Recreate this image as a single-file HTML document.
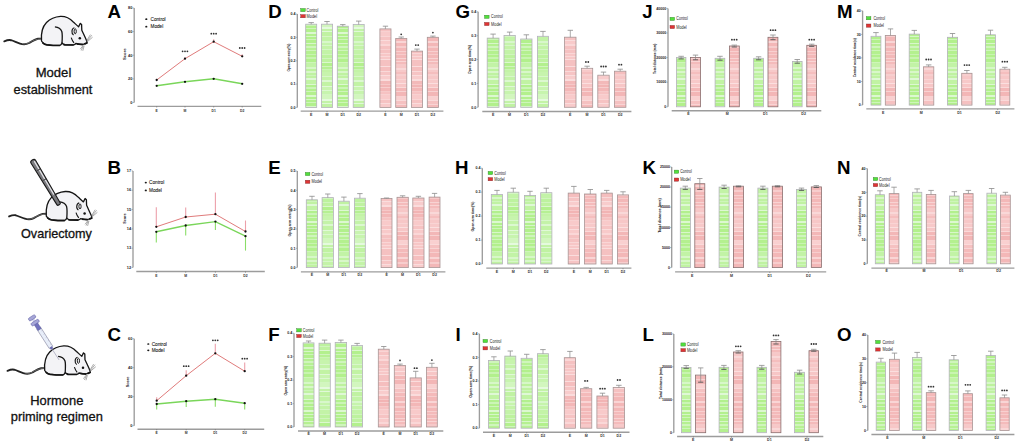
<!DOCTYPE html>
<html><head><meta charset="utf-8"><style>
html,body{margin:0;padding:0;background:#fff;width:1020px;height:446px;overflow:hidden}
svg{display:block}
text{font-family:"Liberation Sans",sans-serif}
</style></head><body>
<svg width="1020" height="446" viewBox="0 0 1020 446">
<defs><pattern id="pg1" patternUnits="userSpaceOnUse" width="20" height="63"><rect y="0" width="20" height="1" fill="#c2f3a6"/><rect y="1" width="20" height="1" fill="#c2f3a6"/><rect y="2" width="20" height="1" fill="#c2f3a6"/><rect y="3" width="20" height="1" fill="#c2f3a6"/><rect y="4" width="20" height="1" fill="#d7f7c8"/><rect y="5" width="20" height="1" fill="#d7f7c8"/><rect y="6" width="20" height="1" fill="#bdf29d"/><rect y="7" width="20" height="1" fill="#bdf29d"/><rect y="8" width="20" height="1" fill="#d8f7c9"/><rect y="9" width="20" height="1" fill="#d8f7c9"/><rect y="10" width="20" height="1" fill="#bff2a1"/><rect y="11" width="20" height="1" fill="#bff2a1"/><rect y="12" width="20" height="1" fill="#cef5ba"/><rect y="13" width="20" height="1" fill="#c0f2a2"/><rect y="14" width="20" height="1" fill="#c0f2a2"/><rect y="15" width="20" height="1" fill="#dff8d6"/><rect y="16" width="20" height="1" fill="#dff8d6"/><rect y="17" width="20" height="1" fill="#c1f3a3"/><rect y="18" width="20" height="1" fill="#c1f3a3"/><rect y="19" width="20" height="1" fill="#c1f3a3"/><rect y="20" width="20" height="1" fill="#c1f3a3"/><rect y="21" width="20" height="1" fill="#ddf8d2"/><rect y="22" width="20" height="1" fill="#b2f08d"/><rect y="23" width="20" height="1" fill="#b2f08d"/><rect y="24" width="20" height="1" fill="#cbf5b6"/><rect y="25" width="20" height="1" fill="#cbf5b6"/><rect y="26" width="20" height="1" fill="#b2f08c"/><rect y="27" width="20" height="1" fill="#b2f08c"/><rect y="28" width="20" height="1" fill="#cff5bc"/><rect y="29" width="20" height="1" fill="#b3f08d"/><rect y="30" width="20" height="1" fill="#b3f08d"/><rect y="31" width="20" height="1" fill="#b3f08d"/><rect y="32" width="20" height="1" fill="#dcf8d0"/><rect y="33" width="20" height="1" fill="#dcf8d0"/><rect y="34" width="20" height="1" fill="#b3f08e"/><rect y="35" width="20" height="1" fill="#b3f08e"/><rect y="36" width="20" height="1" fill="#d6f7c7"/><rect y="37" width="20" height="1" fill="#b2f08c"/><rect y="38" width="20" height="1" fill="#b2f08c"/><rect y="39" width="20" height="1" fill="#cdf5b9"/><rect y="40" width="20" height="1" fill="#b2f08c"/><rect y="41" width="20" height="1" fill="#b2f08c"/><rect y="42" width="20" height="1" fill="#b2f08c"/><rect y="43" width="20" height="1" fill="#d8f7ca"/><rect y="44" width="20" height="1" fill="#b5f091"/><rect y="45" width="20" height="1" fill="#b5f091"/><rect y="46" width="20" height="1" fill="#cff5bc"/><rect y="47" width="20" height="1" fill="#cff5bc"/><rect y="48" width="20" height="1" fill="#b7f194"/><rect y="49" width="20" height="1" fill="#b7f194"/><rect y="50" width="20" height="1" fill="#cef5bb"/><rect y="51" width="20" height="1" fill="#b4f08f"/><rect y="52" width="20" height="1" fill="#b4f08f"/><rect y="53" width="20" height="1" fill="#b4f08f"/><rect y="54" width="20" height="1" fill="#c8f4b0"/><rect y="55" width="20" height="1" fill="#b2f08c"/><rect y="56" width="20" height="1" fill="#b2f08c"/><rect y="57" width="20" height="1" fill="#c8f4b0"/><rect y="58" width="20" height="1" fill="#c8f4b0"/><rect y="59" width="20" height="1" fill="#b2f08c"/><rect y="60" width="20" height="1" fill="#b2f08c"/><rect y="61" width="20" height="1" fill="#b2f08c"/><rect y="62" width="20" height="1" fill="#cef5b9"/></pattern><pattern id="pg2" patternUnits="userSpaceOnUse" width="20" height="72"><rect y="0" width="20" height="1" fill="#c7f4ad"/><rect y="1" width="20" height="1" fill="#c7f4ad"/><rect y="2" width="20" height="1" fill="#c7f4ad"/><rect y="3" width="20" height="1" fill="#c7f4ad"/><rect y="4" width="20" height="1" fill="#d8f7ca"/><rect y="5" width="20" height="1" fill="#c4f3a8"/><rect y="6" width="20" height="1" fill="#c4f3a8"/><rect y="7" width="20" height="1" fill="#c4f3a8"/><rect y="8" width="20" height="1" fill="#dcf8d0"/><rect y="9" width="20" height="1" fill="#dcf8d0"/><rect y="10" width="20" height="1" fill="#c2f3a4"/><rect y="11" width="20" height="1" fill="#c2f3a4"/><rect y="12" width="20" height="1" fill="#c2f3a4"/><rect y="13" width="20" height="1" fill="#c2f3a4"/><rect y="14" width="20" height="1" fill="#e0f9d7"/><rect y="15" width="20" height="1" fill="#c9f4b0"/><rect y="16" width="20" height="1" fill="#c9f4b0"/><rect y="17" width="20" height="1" fill="#c9f4b0"/><rect y="18" width="20" height="1" fill="#dcf8d0"/><rect y="19" width="20" height="1" fill="#c7f4ae"/><rect y="20" width="20" height="1" fill="#c7f4ae"/><rect y="21" width="20" height="1" fill="#c7f4ae"/><rect y="22" width="20" height="1" fill="#d2f6c1"/><rect y="23" width="20" height="1" fill="#d2f6be"/><rect y="24" width="20" height="1" fill="#d2f6be"/><rect y="25" width="20" height="1" fill="#d2f6be"/><rect y="26" width="20" height="1" fill="#d2f6be"/><rect y="27" width="20" height="1" fill="#e5fade"/><rect y="28" width="20" height="1" fill="#e5fade"/><rect y="29" width="20" height="1" fill="#c3f3a7"/><rect y="30" width="20" height="1" fill="#c3f3a7"/><rect y="31" width="20" height="1" fill="#e0f9d8"/><rect y="32" width="20" height="1" fill="#c0f2a2"/><rect y="33" width="20" height="1" fill="#c0f2a2"/><rect y="34" width="20" height="1" fill="#c0f2a2"/><rect y="35" width="20" height="1" fill="#c0f2a2"/><rect y="36" width="20" height="1" fill="#d5f6c4"/><rect y="37" width="20" height="1" fill="#c2f3a6"/><rect y="38" width="20" height="1" fill="#c2f3a6"/><rect y="39" width="20" height="1" fill="#c2f3a6"/><rect y="40" width="20" height="1" fill="#c2f3a6"/><rect y="41" width="20" height="1" fill="#d8f7cb"/><rect y="42" width="20" height="1" fill="#d8f7cb"/><rect y="43" width="20" height="1" fill="#c6f4ac"/><rect y="44" width="20" height="1" fill="#c6f4ac"/><rect y="45" width="20" height="1" fill="#d7f7c9"/><rect y="46" width="20" height="1" fill="#c4f3a8"/><rect y="47" width="20" height="1" fill="#c4f3a8"/><rect y="48" width="20" height="1" fill="#c4f3a8"/><rect y="49" width="20" height="1" fill="#d4f6c4"/><rect y="50" width="20" height="1" fill="#c3f3a7"/><rect y="51" width="20" height="1" fill="#c3f3a7"/><rect y="52" width="20" height="1" fill="#c3f3a7"/><rect y="53" width="20" height="1" fill="#c3f3a7"/><rect y="54" width="20" height="1" fill="#d0f5bd"/><rect y="55" width="20" height="1" fill="#bdf29e"/><rect y="56" width="20" height="1" fill="#bdf29e"/><rect y="57" width="20" height="1" fill="#bdf29e"/><rect y="58" width="20" height="1" fill="#d0f5bd"/><rect y="59" width="20" height="1" fill="#bff2a0"/><rect y="60" width="20" height="1" fill="#bff2a0"/><rect y="61" width="20" height="1" fill="#bff2a0"/><rect y="62" width="20" height="1" fill="#dbf8ce"/><rect y="63" width="20" height="1" fill="#b3f08d"/><rect y="64" width="20" height="1" fill="#b3f08d"/><rect y="65" width="20" height="1" fill="#b3f08d"/><rect y="66" width="20" height="1" fill="#d0f5bd"/><rect y="67" width="20" height="1" fill="#b6f093"/><rect y="68" width="20" height="1" fill="#b6f093"/><rect y="69" width="20" height="1" fill="#cbf4b5"/><rect y="70" width="20" height="1" fill="#c3f3a6"/><rect y="71" width="20" height="1" fill="#c3f3a6"/></pattern><pattern id="pr1" patternUnits="userSpaceOnUse" width="20" height="63"><rect y="0" width="20" height="1" fill="#f5c1c1"/><rect y="1" width="20" height="1" fill="#f5c1c1"/><rect y="2" width="20" height="1" fill="#f5c1c1"/><rect y="3" width="20" height="1" fill="#fadddd"/><rect y="4" width="20" height="1" fill="#f5bebe"/><rect y="5" width="20" height="1" fill="#f5bebe"/><rect y="6" width="20" height="1" fill="#f5bebe"/><rect y="7" width="20" height="1" fill="#f5bebe"/><rect y="8" width="20" height="1" fill="#f9d9d9"/><rect y="9" width="20" height="1" fill="#f6c4c4"/><rect y="10" width="20" height="1" fill="#f6c4c4"/><rect y="11" width="20" height="1" fill="#f6c4c4"/><rect y="12" width="20" height="1" fill="#fadddd"/><rect y="13" width="20" height="1" fill="#f8cccc"/><rect y="14" width="20" height="1" fill="#f8cccc"/><rect y="15" width="20" height="1" fill="#f8cccc"/><rect y="16" width="20" height="1" fill="#fadcdc"/><rect y="17" width="20" height="1" fill="#fadcdc"/><rect y="18" width="20" height="1" fill="#f3b9b9"/><rect y="19" width="20" height="1" fill="#f3b9b9"/><rect y="20" width="20" height="1" fill="#f3b9b9"/><rect y="21" width="20" height="1" fill="#f6c8c8"/><rect y="22" width="20" height="1" fill="#f2b4b4"/><rect y="23" width="20" height="1" fill="#f2b4b4"/><rect y="24" width="20" height="1" fill="#f7cdcd"/><rect y="25" width="20" height="1" fill="#f3b7b7"/><rect y="26" width="20" height="1" fill="#f3b7b7"/><rect y="27" width="20" height="1" fill="#f3b7b7"/><rect y="28" width="20" height="1" fill="#f6caca"/><rect y="29" width="20" height="1" fill="#f6c2c2"/><rect y="30" width="20" height="1" fill="#f6c2c2"/><rect y="31" width="20" height="1" fill="#f8d1d1"/><rect y="32" width="20" height="1" fill="#f8caca"/><rect y="33" width="20" height="1" fill="#f8caca"/><rect y="34" width="20" height="1" fill="#f8caca"/><rect y="35" width="20" height="1" fill="#f8caca"/><rect y="36" width="20" height="1" fill="#f9d5d5"/><rect y="37" width="20" height="1" fill="#f6c3c3"/><rect y="38" width="20" height="1" fill="#f6c3c3"/><rect y="39" width="20" height="1" fill="#f6c3c3"/><rect y="40" width="20" height="1" fill="#fadcdc"/><rect y="41" width="20" height="1" fill="#f8caca"/><rect y="42" width="20" height="1" fill="#f8caca"/><rect y="43" width="20" height="1" fill="#f8caca"/><rect y="44" width="20" height="1" fill="#fad7d7"/><rect y="45" width="20" height="1" fill="#fad7d7"/><rect y="46" width="20" height="1" fill="#f5c1c1"/><rect y="47" width="20" height="1" fill="#f5c1c1"/><rect y="48" width="20" height="1" fill="#f5c1c1"/><rect y="49" width="20" height="1" fill="#f7cfcf"/><rect y="50" width="20" height="1" fill="#f5c1c1"/><rect y="51" width="20" height="1" fill="#f5c1c1"/><rect y="52" width="20" height="1" fill="#f5c1c1"/><rect y="53" width="20" height="1" fill="#f9d6d6"/><rect y="54" width="20" height="1" fill="#f7c6c6"/><rect y="55" width="20" height="1" fill="#f7c6c6"/><rect y="56" width="20" height="1" fill="#fad8d8"/><rect y="57" width="20" height="1" fill="#f7c7c7"/><rect y="58" width="20" height="1" fill="#f7c7c7"/><rect y="59" width="20" height="1" fill="#fadddd"/><rect y="60" width="20" height="1" fill="#f5c1c1"/><rect y="61" width="20" height="1" fill="#f5c1c1"/><rect y="62" width="20" height="1" fill="#f5c1c1"/></pattern><pattern id="pr2" patternUnits="userSpaceOnUse" width="20" height="72"><rect y="0" width="20" height="1" fill="#f5bebe"/><rect y="1" width="20" height="1" fill="#f5bebe"/><rect y="2" width="20" height="1" fill="#f7cece"/><rect y="3" width="20" height="1" fill="#f7cece"/><rect y="4" width="20" height="1" fill="#f7c7c7"/><rect y="5" width="20" height="1" fill="#f7c7c7"/><rect y="6" width="20" height="1" fill="#f7c7c7"/><rect y="7" width="20" height="1" fill="#f9d4d4"/><rect y="8" width="20" height="1" fill="#f7c9c9"/><rect y="9" width="20" height="1" fill="#f7c9c9"/><rect y="10" width="20" height="1" fill="#f7c9c9"/><rect y="11" width="20" height="1" fill="#fbdfdf"/><rect y="12" width="20" height="1" fill="#f7c6c6"/><rect y="13" width="20" height="1" fill="#f7c6c6"/><rect y="14" width="20" height="1" fill="#f7c6c6"/><rect y="15" width="20" height="1" fill="#fad9d9"/><rect y="16" width="20" height="1" fill="#f3b7b7"/><rect y="17" width="20" height="1" fill="#f3b7b7"/><rect y="18" width="20" height="1" fill="#f3b7b7"/><rect y="19" width="20" height="1" fill="#f8d2d2"/><rect y="20" width="20" height="1" fill="#f3b6b6"/><rect y="21" width="20" height="1" fill="#f3b6b6"/><rect y="22" width="20" height="1" fill="#f3b6b6"/><rect y="23" width="20" height="1" fill="#f3b6b6"/><rect y="24" width="20" height="1" fill="#f8d2d2"/><rect y="25" width="20" height="1" fill="#f9d0d0"/><rect y="26" width="20" height="1" fill="#f9d0d0"/><rect y="27" width="20" height="1" fill="#f9d0d0"/><rect y="28" width="20" height="1" fill="#fadada"/><rect y="29" width="20" height="1" fill="#f5c1c1"/><rect y="30" width="20" height="1" fill="#f5c1c1"/><rect y="31" width="20" height="1" fill="#f5c1c1"/><rect y="32" width="20" height="1" fill="#f8d4d4"/><rect y="33" width="20" height="1" fill="#f4baba"/><rect y="34" width="20" height="1" fill="#f4baba"/><rect y="35" width="20" height="1" fill="#f4baba"/><rect y="36" width="20" height="1" fill="#f7cece"/><rect y="37" width="20" height="1" fill="#f3b7b7"/><rect y="38" width="20" height="1" fill="#f3b7b7"/><rect y="39" width="20" height="1" fill="#f3b7b7"/><rect y="40" width="20" height="1" fill="#f3b7b7"/><rect y="41" width="20" height="1" fill="#f9d5d5"/><rect y="42" width="20" height="1" fill="#f9d5d5"/><rect y="43" width="20" height="1" fill="#f3b7b7"/><rect y="44" width="20" height="1" fill="#f3b7b7"/><rect y="45" width="20" height="1" fill="#f3b7b7"/><rect y="46" width="20" height="1" fill="#f7cdcd"/><rect y="47" width="20" height="1" fill="#f7cdcd"/><rect y="48" width="20" height="1" fill="#f3b7b7"/><rect y="49" width="20" height="1" fill="#f3b7b7"/><rect y="50" width="20" height="1" fill="#f3b7b7"/><rect y="51" width="20" height="1" fill="#f8d0d0"/><rect y="52" width="20" height="1" fill="#f4baba"/><rect y="53" width="20" height="1" fill="#f4baba"/><rect y="54" width="20" height="1" fill="#f7cbcb"/><rect y="55" width="20" height="1" fill="#f3b8b8"/><rect y="56" width="20" height="1" fill="#f3b8b8"/><rect y="57" width="20" height="1" fill="#f3b8b8"/><rect y="58" width="20" height="1" fill="#f8d3d3"/><rect y="59" width="20" height="1" fill="#f4bbbb"/><rect y="60" width="20" height="1" fill="#f4bbbb"/><rect y="61" width="20" height="1" fill="#f9d5d5"/><rect y="62" width="20" height="1" fill="#f4bbbb"/><rect y="63" width="20" height="1" fill="#f4bbbb"/><rect y="64" width="20" height="1" fill="#f6c9c9"/><rect y="65" width="20" height="1" fill="#f6c9c9"/><rect y="66" width="20" height="1" fill="#f7c7c7"/><rect y="67" width="20" height="1" fill="#f7c7c7"/><rect y="68" width="20" height="1" fill="#f9d8d8"/><rect y="69" width="20" height="1" fill="#f9d8d8"/><rect y="70" width="20" height="1" fill="#f7c9c9"/><rect y="71" width="20" height="1" fill="#f7c9c9"/></pattern></defs>
<rect width="1020" height="446" fill="#fff"/>
<text x="268.2" y="18.2" font-size="18.7" font-weight="bold" fill="#000">D</text>
<line x1="297.3" y1="14.1" x2="297.3" y2="107.4" stroke="#9c9c9c" stroke-width="1.35"/>
<line x1="295.8" y1="107.4" x2="297.3" y2="107.4" stroke="#8a8a8a" stroke-width="0.6"/>
<text x="295.5" y="108.6" font-size="3.6" text-anchor="end" font-weight="bold" fill="#222" >0.0</text>
<line x1="295.8" y1="84.1" x2="297.3" y2="84.1" stroke="#8a8a8a" stroke-width="0.6"/>
<text x="295.5" y="85.3" font-size="3.6" text-anchor="end" font-weight="bold" fill="#222" >0.1</text>
<line x1="295.8" y1="60.8" x2="297.3" y2="60.8" stroke="#8a8a8a" stroke-width="0.6"/>
<text x="295.5" y="62" font-size="3.6" text-anchor="end" font-weight="bold" fill="#222" >0.2</text>
<line x1="295.8" y1="37.4" x2="297.3" y2="37.4" stroke="#8a8a8a" stroke-width="0.6"/>
<text x="295.5" y="38.6" font-size="3.6" text-anchor="end" font-weight="bold" fill="#222" >0.3</text>
<line x1="295.8" y1="14.1" x2="297.3" y2="14.1" stroke="#8a8a8a" stroke-width="0.6"/>
<text x="295.5" y="15.3" font-size="3.6" text-anchor="end" font-weight="bold" fill="#222" >0.4</text>
<rect x="305.7" y="24.2" width="11" height="83.2" fill="url(#pg1)" stroke="#b4b2bc" stroke-width="0.8"/>
<line x1="311.2" y1="22.6" x2="311.2" y2="24.2" stroke="#8a8a8a" stroke-width="0.7"/>
<line x1="308.5" y1="22.6" x2="313.9" y2="22.6" stroke="#8a8a8a" stroke-width="0.8"/>
<rect x="321.4" y="24.2" width="11.2" height="83.2" fill="url(#pg2)" stroke="#b4b2bc" stroke-width="0.8"/>
<line x1="327" y1="21.5" x2="327" y2="24.2" stroke="#8a8a8a" stroke-width="0.7"/>
<line x1="324.3" y1="21.5" x2="329.7" y2="21.5" stroke="#8a8a8a" stroke-width="0.8"/>
<rect x="337.3" y="26.2" width="11" height="81.2" fill="url(#pg1)" stroke="#b4b2bc" stroke-width="0.8"/>
<line x1="342.8" y1="24.6" x2="342.8" y2="26.2" stroke="#8a8a8a" stroke-width="0.7"/>
<line x1="340.1" y1="24.6" x2="345.5" y2="24.6" stroke="#8a8a8a" stroke-width="0.8"/>
<rect x="353.2" y="24.5" width="11" height="82.9" fill="url(#pg2)" stroke="#b4b2bc" stroke-width="0.8"/>
<line x1="358.7" y1="21.1" x2="358.7" y2="24.5" stroke="#8a8a8a" stroke-width="0.7"/>
<line x1="356" y1="21.1" x2="361.4" y2="21.1" stroke="#8a8a8a" stroke-width="0.8"/>
<rect x="379.9" y="28.9" width="11.1" height="78.5" fill="url(#pr1)" stroke="#a89494" stroke-width="0.8"/>
<line x1="385.4" y1="26.2" x2="385.4" y2="28.9" stroke="#8a8a8a" stroke-width="0.7"/>
<line x1="382.8" y1="26.2" x2="388.1" y2="26.2" stroke="#8a8a8a" stroke-width="0.8"/>
<rect x="395.7" y="38.4" width="11.1" height="69" fill="url(#pr2)" stroke="#a89494" stroke-width="0.8"/>
<line x1="401.2" y1="37" x2="401.2" y2="38.4" stroke="#8a8a8a" stroke-width="0.7"/>
<line x1="398.6" y1="37" x2="403.9" y2="37" stroke="#8a8a8a" stroke-width="0.8"/>
<circle cx="401.2" cy="34.3" r="0.9" fill="#333"/>
<rect x="411.4" y="51.1" width="11.2" height="56.3" fill="url(#pr1)" stroke="#a89494" stroke-width="0.8"/>
<line x1="417" y1="49.1" x2="417" y2="51.1" stroke="#8a8a8a" stroke-width="0.7"/>
<line x1="414.3" y1="49.1" x2="419.7" y2="49.1" stroke="#8a8a8a" stroke-width="0.8"/>
<circle cx="415.8" cy="45.1" r="0.9" fill="#333"/>
<circle cx="418.2" cy="45.1" r="0.9" fill="#333"/>
<rect x="427.3" y="37.3" width="11.2" height="70.1" fill="url(#pr2)" stroke="#a89494" stroke-width="0.8"/>
<line x1="432.9" y1="36.1" x2="432.9" y2="37.3" stroke="#8a8a8a" stroke-width="0.7"/>
<line x1="430.2" y1="36.1" x2="435.6" y2="36.1" stroke="#8a8a8a" stroke-width="0.8"/>
<circle cx="432.9" cy="32.6" r="0.9" fill="#333"/>
<line x1="300.7" y1="111.1" x2="443.4" y2="111.1" stroke="#9c9c9c" stroke-width="1.35"/>
<line x1="311.2" y1="111.1" x2="311.2" y2="112.3" stroke="#666" stroke-width="0.6"/>
<text x="311.2" y="115.7" font-size="3.6" text-anchor="middle" font-weight="bold" fill="#333" >E</text>
<line x1="327" y1="111.1" x2="327" y2="112.3" stroke="#666" stroke-width="0.6"/>
<text x="327" y="115.7" font-size="3.6" text-anchor="middle" font-weight="bold" fill="#333" >M</text>
<line x1="342.8" y1="111.1" x2="342.8" y2="112.3" stroke="#666" stroke-width="0.6"/>
<text x="342.8" y="115.7" font-size="3.6" text-anchor="middle" font-weight="bold" fill="#333" >D1</text>
<line x1="358.7" y1="111.1" x2="358.7" y2="112.3" stroke="#666" stroke-width="0.6"/>
<text x="358.7" y="115.7" font-size="3.6" text-anchor="middle" font-weight="bold" fill="#333" >D2</text>
<line x1="385.4" y1="111.1" x2="385.4" y2="112.3" stroke="#666" stroke-width="0.6"/>
<text x="385.4" y="115.7" font-size="3.6" text-anchor="middle" font-weight="bold" fill="#333" >E</text>
<line x1="401.2" y1="111.1" x2="401.2" y2="112.3" stroke="#666" stroke-width="0.6"/>
<text x="401.2" y="115.7" font-size="3.6" text-anchor="middle" font-weight="bold" fill="#333" >M</text>
<line x1="417" y1="111.1" x2="417" y2="112.3" stroke="#666" stroke-width="0.6"/>
<text x="417" y="115.7" font-size="3.6" text-anchor="middle" font-weight="bold" fill="#333" >D1</text>
<line x1="432.9" y1="111.1" x2="432.9" y2="112.3" stroke="#666" stroke-width="0.6"/>
<text x="432.9" y="115.7" font-size="3.6" text-anchor="middle" font-weight="bold" fill="#333" >D2</text>
<rect x="300.7" y="8.5" width="4.6" height="3.2" fill="#52e03c" stroke="#3a7a30" stroke-width="0.4"/>
<rect x="300.7" y="14.6" width="4.6" height="3.2" fill="#e03434" stroke="#7a3030" stroke-width="0.4"/>
<text x="306.6" y="11.6" font-size="4.5" text-anchor="start" font-weight="normal" fill="#222" textLength="11.6" lengthAdjust="spacingAndGlyphs">Control</text>
<text x="306.6" y="17.7" font-size="4.5" text-anchor="start" font-weight="normal" fill="#222" textLength="10.4" lengthAdjust="spacingAndGlyphs">Model</text>
<text transform="translate(290.2,57.6) rotate(-90)" font-size="3.4" text-anchor="middle" fill="#222" font-weight="bold" textLength="28" lengthAdjust="spacingAndGlyphs">Open arm entry(%)</text>
<text x="455.6" y="18.2" font-size="18.7" font-weight="bold" fill="#000">G</text>
<line x1="478.1" y1="11.8" x2="478.1" y2="107.3" stroke="#9c9c9c" stroke-width="1.35"/>
<line x1="476.6" y1="107.3" x2="478.1" y2="107.3" stroke="#8a8a8a" stroke-width="0.6"/>
<text x="476.3" y="108.5" font-size="3.6" text-anchor="end" font-weight="bold" fill="#222" >0.0</text>
<line x1="476.6" y1="83.4" x2="478.1" y2="83.4" stroke="#8a8a8a" stroke-width="0.6"/>
<text x="476.3" y="84.6" font-size="3.6" text-anchor="end" font-weight="bold" fill="#222" >0.1</text>
<line x1="476.6" y1="59.5" x2="478.1" y2="59.5" stroke="#8a8a8a" stroke-width="0.6"/>
<text x="476.3" y="60.8" font-size="3.6" text-anchor="end" font-weight="bold" fill="#222" >0.2</text>
<line x1="476.6" y1="35.7" x2="478.1" y2="35.7" stroke="#8a8a8a" stroke-width="0.6"/>
<text x="476.3" y="36.9" font-size="3.6" text-anchor="end" font-weight="bold" fill="#222" >0.3</text>
<line x1="476.6" y1="11.8" x2="478.1" y2="11.8" stroke="#8a8a8a" stroke-width="0.6"/>
<text x="476.3" y="13" font-size="3.6" text-anchor="end" font-weight="bold" fill="#222" >0.4</text>
<rect x="487.2" y="38.1" width="11.8" height="69.2" fill="url(#pg1)" stroke="#b4b2bc" stroke-width="0.8"/>
<line x1="493.1" y1="34.1" x2="493.1" y2="38.1" stroke="#8a8a8a" stroke-width="0.7"/>
<line x1="490.4" y1="34.1" x2="495.8" y2="34.1" stroke="#8a8a8a" stroke-width="0.8"/>
<rect x="504" y="35.4" width="11.3" height="71.9" fill="url(#pg2)" stroke="#b4b2bc" stroke-width="0.8"/>
<line x1="509.6" y1="32.1" x2="509.6" y2="35.4" stroke="#8a8a8a" stroke-width="0.7"/>
<line x1="506.9" y1="32.1" x2="512.4" y2="32.1" stroke="#8a8a8a" stroke-width="0.8"/>
<rect x="520.7" y="39" width="11.3" height="68.3" fill="url(#pg1)" stroke="#b4b2bc" stroke-width="0.8"/>
<line x1="526.4" y1="34.8" x2="526.4" y2="39" stroke="#8a8a8a" stroke-width="0.7"/>
<line x1="523.6" y1="34.8" x2="529.1" y2="34.8" stroke="#8a8a8a" stroke-width="0.8"/>
<rect x="537.4" y="36.3" width="11.1" height="71" fill="url(#pg2)" stroke="#b4b2bc" stroke-width="0.8"/>
<line x1="543" y1="31.4" x2="543" y2="36.3" stroke="#8a8a8a" stroke-width="0.7"/>
<line x1="540.2" y1="31.4" x2="545.7" y2="31.4" stroke="#8a8a8a" stroke-width="0.8"/>
<rect x="564.6" y="37.2" width="11.4" height="70.1" fill="url(#pr1)" stroke="#a89494" stroke-width="0.8"/>
<line x1="570.3" y1="30.3" x2="570.3" y2="37.2" stroke="#8a8a8a" stroke-width="0.7"/>
<line x1="567.6" y1="30.3" x2="573" y2="30.3" stroke="#8a8a8a" stroke-width="0.8"/>
<rect x="581.5" y="68.3" width="11.2" height="39" fill="url(#pr2)" stroke="#a89494" stroke-width="0.8"/>
<line x1="587.1" y1="66.2" x2="587.1" y2="68.3" stroke="#8a8a8a" stroke-width="0.7"/>
<line x1="584.4" y1="66.2" x2="589.8" y2="66.2" stroke="#8a8a8a" stroke-width="0.8"/>
<circle cx="585.9" cy="62" r="0.9" fill="#333"/>
<circle cx="588.3" cy="62" r="0.9" fill="#333"/>
<rect x="597.8" y="75.2" width="11.4" height="32.1" fill="url(#pr1)" stroke="#a89494" stroke-width="0.8"/>
<line x1="603.5" y1="72.1" x2="603.5" y2="75.2" stroke="#8a8a8a" stroke-width="0.7"/>
<line x1="600.8" y1="72.1" x2="606.2" y2="72.1" stroke="#8a8a8a" stroke-width="0.8"/>
<circle cx="601.1" cy="66.5" r="0.9" fill="#333"/>
<circle cx="603.5" cy="66.5" r="0.9" fill="#333"/>
<circle cx="605.9" cy="66.5" r="0.9" fill="#333"/>
<rect x="614.5" y="71.2" width="11.4" height="36.1" fill="url(#pr2)" stroke="#a89494" stroke-width="0.8"/>
<line x1="620.2" y1="69.2" x2="620.2" y2="71.2" stroke="#8a8a8a" stroke-width="0.7"/>
<line x1="617.5" y1="69.2" x2="622.9" y2="69.2" stroke="#8a8a8a" stroke-width="0.8"/>
<circle cx="619" cy="64.7" r="0.9" fill="#333"/>
<circle cx="621.4" cy="64.7" r="0.9" fill="#333"/>
<line x1="482.3" y1="111.5" x2="631.4" y2="111.5" stroke="#9c9c9c" stroke-width="1.35"/>
<line x1="493.1" y1="111.5" x2="493.1" y2="112.7" stroke="#666" stroke-width="0.6"/>
<text x="493.1" y="116.3" font-size="3.6" text-anchor="middle" font-weight="bold" fill="#333" >E</text>
<line x1="509.6" y1="111.5" x2="509.6" y2="112.7" stroke="#666" stroke-width="0.6"/>
<text x="509.6" y="116.3" font-size="3.6" text-anchor="middle" font-weight="bold" fill="#333" >M</text>
<line x1="526.4" y1="111.5" x2="526.4" y2="112.7" stroke="#666" stroke-width="0.6"/>
<text x="526.4" y="116.3" font-size="3.6" text-anchor="middle" font-weight="bold" fill="#333" >D1</text>
<line x1="543" y1="111.5" x2="543" y2="112.7" stroke="#666" stroke-width="0.6"/>
<text x="543" y="116.3" font-size="3.6" text-anchor="middle" font-weight="bold" fill="#333" >D2</text>
<line x1="570.3" y1="111.5" x2="570.3" y2="112.7" stroke="#666" stroke-width="0.6"/>
<text x="570.3" y="116.3" font-size="3.6" text-anchor="middle" font-weight="bold" fill="#333" >E</text>
<line x1="587.1" y1="111.5" x2="587.1" y2="112.7" stroke="#666" stroke-width="0.6"/>
<text x="587.1" y="116.3" font-size="3.6" text-anchor="middle" font-weight="bold" fill="#333" >M</text>
<line x1="603.5" y1="111.5" x2="603.5" y2="112.7" stroke="#666" stroke-width="0.6"/>
<text x="603.5" y="116.3" font-size="3.6" text-anchor="middle" font-weight="bold" fill="#333" >D1</text>
<line x1="620.2" y1="111.5" x2="620.2" y2="112.7" stroke="#666" stroke-width="0.6"/>
<text x="620.2" y="116.3" font-size="3.6" text-anchor="middle" font-weight="bold" fill="#333" >D2</text>
<rect x="484.5" y="15.2" width="4.6" height="3.2" fill="#52e03c" stroke="#3a7a30" stroke-width="0.4"/>
<rect x="484.5" y="22.4" width="4.6" height="3.2" fill="#e03434" stroke="#7a3030" stroke-width="0.4"/>
<text x="491.1" y="18.3" font-size="4.5" text-anchor="start" font-weight="normal" fill="#222" textLength="11.6" lengthAdjust="spacingAndGlyphs">Control</text>
<text x="491.1" y="25.5" font-size="4.5" text-anchor="start" font-weight="normal" fill="#222" textLength="10.4" lengthAdjust="spacingAndGlyphs">Model</text>
<text transform="translate(470.6,59.4) rotate(-90)" font-size="3.4" text-anchor="middle" fill="#222" font-weight="bold" textLength="29" lengthAdjust="spacingAndGlyphs">Open arm time(%)</text>
<text x="642.2" y="18.2" font-size="18.7" font-weight="bold" fill="#000">J</text>
<line x1="668" y1="8.4" x2="668" y2="106.8" stroke="#9c9c9c" stroke-width="1.35"/>
<line x1="666.5" y1="106.8" x2="668" y2="106.8" stroke="#8a8a8a" stroke-width="0.6"/>
<text x="666.2" y="108" font-size="3.6" text-anchor="end" font-weight="bold" fill="#222" >0</text>
<line x1="666.5" y1="82.2" x2="668" y2="82.2" stroke="#8a8a8a" stroke-width="0.6"/>
<text x="666.2" y="83.4" font-size="3.6" text-anchor="end" font-weight="bold" fill="#222" >10000</text>
<line x1="666.5" y1="57.6" x2="668" y2="57.6" stroke="#8a8a8a" stroke-width="0.6"/>
<text x="666.2" y="58.8" font-size="3.6" text-anchor="end" font-weight="bold" fill="#222" >20000</text>
<line x1="666.5" y1="33" x2="668" y2="33" stroke="#8a8a8a" stroke-width="0.6"/>
<text x="666.2" y="34.2" font-size="3.6" text-anchor="end" font-weight="bold" fill="#222" >30000</text>
<line x1="666.5" y1="8.4" x2="668" y2="8.4" stroke="#8a8a8a" stroke-width="0.6"/>
<text x="666.2" y="9.6" font-size="3.6" text-anchor="end" font-weight="bold" fill="#222" >40000</text>
<rect x="676.4" y="57.4" width="9.5" height="49.4" fill="url(#pg1)" stroke="#b4b2bc" stroke-width="0.8"/>
<line x1="681.1" y1="56.3" x2="681.1" y2="58.9" stroke="#8a8a8a" stroke-width="0.7"/>
<line x1="678.4" y1="56.3" x2="683.9" y2="56.3" stroke="#8a8a8a" stroke-width="0.8"/>
<line x1="678.5" y1="58.9" x2="683.8" y2="58.9" stroke="#555" stroke-width="0.9"/>
<rect x="690.5" y="57.4" width="10.1" height="49.4" fill="url(#pr2)" stroke="#8a6e6e" stroke-width="0.8"/>
<line x1="695.5" y1="55.1" x2="695.5" y2="59.8" stroke="#8a8a8a" stroke-width="0.7"/>
<line x1="692.8" y1="55.1" x2="698.2" y2="55.1" stroke="#8a8a8a" stroke-width="0.8"/>
<line x1="692.9" y1="59.8" x2="698.1" y2="59.8" stroke="#555" stroke-width="0.9"/>
<rect x="715.1" y="58.3" width="9.7" height="48.5" fill="url(#pg1)" stroke="#b4b2bc" stroke-width="0.8"/>
<line x1="720" y1="56.3" x2="720" y2="60.2" stroke="#8a8a8a" stroke-width="0.7"/>
<line x1="717.2" y1="56.3" x2="722.7" y2="56.3" stroke="#8a8a8a" stroke-width="0.8"/>
<line x1="717.4" y1="60.2" x2="722.6" y2="60.2" stroke="#555" stroke-width="0.9"/>
<rect x="729.4" y="46" width="9.9" height="60.8" fill="url(#pr2)" stroke="#8a6e6e" stroke-width="0.8"/>
<line x1="734.3" y1="45.1" x2="734.3" y2="47" stroke="#8a8a8a" stroke-width="0.7"/>
<line x1="731.6" y1="45.1" x2="737" y2="45.1" stroke="#8a8a8a" stroke-width="0.8"/>
<line x1="731.7" y1="47" x2="736.9" y2="47" stroke="#555" stroke-width="0.9"/>
<circle cx="731.9" cy="39.7" r="0.9" fill="#333"/>
<circle cx="734.3" cy="39.7" r="0.9" fill="#333"/>
<circle cx="736.7" cy="39.7" r="0.9" fill="#333"/>
<rect x="753.7" y="58.3" width="9.8" height="48.5" fill="url(#pg1)" stroke="#b4b2bc" stroke-width="0.8"/>
<line x1="758.6" y1="56.8" x2="758.6" y2="59.8" stroke="#8a8a8a" stroke-width="0.7"/>
<line x1="755.9" y1="56.8" x2="761.3" y2="56.8" stroke="#8a8a8a" stroke-width="0.8"/>
<line x1="756" y1="59.8" x2="761.2" y2="59.8" stroke="#555" stroke-width="0.9"/>
<rect x="768" y="37.3" width="9.9" height="69.5" fill="url(#pr2)" stroke="#8a6e6e" stroke-width="0.8"/>
<line x1="773" y1="35" x2="773" y2="39.7" stroke="#8a8a8a" stroke-width="0.7"/>
<line x1="770.2" y1="35" x2="775.7" y2="35" stroke="#8a8a8a" stroke-width="0.8"/>
<line x1="770.4" y1="39.7" x2="775.6" y2="39.7" stroke="#555" stroke-width="0.9"/>
<circle cx="770.6" cy="30.2" r="0.9" fill="#333"/>
<circle cx="773" cy="30.2" r="0.9" fill="#333"/>
<circle cx="775.4" cy="30.2" r="0.9" fill="#333"/>
<rect x="792.4" y="61.4" width="9.7" height="45.4" fill="url(#pg1)" stroke="#b4b2bc" stroke-width="0.8"/>
<line x1="797.2" y1="59.5" x2="797.2" y2="63.2" stroke="#8a8a8a" stroke-width="0.7"/>
<line x1="794.5" y1="59.5" x2="800" y2="59.5" stroke="#8a8a8a" stroke-width="0.8"/>
<line x1="794.6" y1="63.2" x2="799.9" y2="63.2" stroke="#555" stroke-width="0.9"/>
<rect x="806.8" y="45.3" width="9.8" height="61.5" fill="url(#pr2)" stroke="#8a6e6e" stroke-width="0.8"/>
<line x1="811.7" y1="44.2" x2="811.7" y2="46.4" stroke="#8a8a8a" stroke-width="0.7"/>
<line x1="809" y1="44.2" x2="814.4" y2="44.2" stroke="#8a8a8a" stroke-width="0.8"/>
<line x1="809.1" y1="46.4" x2="814.3" y2="46.4" stroke="#555" stroke-width="0.9"/>
<circle cx="809.3" cy="39.7" r="0.9" fill="#333"/>
<circle cx="811.7" cy="39.7" r="0.9" fill="#333"/>
<circle cx="814.1" cy="39.7" r="0.9" fill="#333"/>
<line x1="671.7" y1="110.7" x2="821.3" y2="110.7" stroke="#9c9c9c" stroke-width="1.35"/>
<line x1="688.5" y1="110.7" x2="688.5" y2="111.9" stroke="#666" stroke-width="0.6"/>
<text x="688.5" y="115.1" font-size="3.6" text-anchor="middle" font-weight="bold" fill="#333" >E</text>
<line x1="727.2" y1="110.7" x2="727.2" y2="111.9" stroke="#666" stroke-width="0.6"/>
<text x="727.2" y="115.1" font-size="3.6" text-anchor="middle" font-weight="bold" fill="#333" >M</text>
<line x1="765.4" y1="110.7" x2="765.4" y2="111.9" stroke="#666" stroke-width="0.6"/>
<text x="765.4" y="115.1" font-size="3.6" text-anchor="middle" font-weight="bold" fill="#333" >D1</text>
<line x1="803.6" y1="110.7" x2="803.6" y2="111.9" stroke="#666" stroke-width="0.6"/>
<text x="803.6" y="115.1" font-size="3.6" text-anchor="middle" font-weight="bold" fill="#333" >D2</text>
<rect x="670" y="17.3" width="4.6" height="3.2" fill="#52e03c" stroke="#3a7a30" stroke-width="0.4"/>
<rect x="670" y="25.4" width="4.6" height="3.2" fill="#e03434" stroke="#7a3030" stroke-width="0.4"/>
<text x="676.3" y="20.4" font-size="4.5" text-anchor="start" font-weight="normal" fill="#222" textLength="11.6" lengthAdjust="spacingAndGlyphs">Control</text>
<text x="676.3" y="28.5" font-size="4.5" text-anchor="start" font-weight="normal" fill="#222" textLength="10.4" lengthAdjust="spacingAndGlyphs">Model</text>
<text transform="translate(656.3,58.8) rotate(-90)" font-size="3.4" text-anchor="middle" fill="#222" font-weight="bold" textLength="30.3" lengthAdjust="spacingAndGlyphs">Total distance (mm)</text>
<text x="837.1" y="18.2" font-size="18.7" font-weight="bold" fill="#000">M</text>
<line x1="862.6" y1="10.8" x2="862.6" y2="105.1" stroke="#9c9c9c" stroke-width="1.35"/>
<line x1="861.1" y1="105.1" x2="862.6" y2="105.1" stroke="#8a8a8a" stroke-width="0.6"/>
<text x="860.8" y="106.3" font-size="3.6" text-anchor="end" font-weight="bold" fill="#222" >0</text>
<line x1="861.1" y1="81.5" x2="862.6" y2="81.5" stroke="#8a8a8a" stroke-width="0.6"/>
<text x="860.8" y="82.7" font-size="3.6" text-anchor="end" font-weight="bold" fill="#222" >10</text>
<line x1="861.1" y1="57.9" x2="862.6" y2="57.9" stroke="#8a8a8a" stroke-width="0.6"/>
<text x="860.8" y="59.1" font-size="3.6" text-anchor="end" font-weight="bold" fill="#222" >20</text>
<line x1="861.1" y1="34.4" x2="862.6" y2="34.4" stroke="#8a8a8a" stroke-width="0.6"/>
<text x="860.8" y="35.6" font-size="3.6" text-anchor="end" font-weight="bold" fill="#222" >30</text>
<line x1="861.1" y1="10.8" x2="862.6" y2="10.8" stroke="#8a8a8a" stroke-width="0.6"/>
<text x="860.8" y="12" font-size="3.6" text-anchor="end" font-weight="bold" fill="#222" >40</text>
<rect x="871" y="36.3" width="9.9" height="68.8" fill="url(#pg1)" stroke="#b4b2bc" stroke-width="0.8"/>
<line x1="876" y1="32.6" x2="876" y2="36.3" stroke="#8a8a8a" stroke-width="0.7"/>
<line x1="873.2" y1="32.6" x2="878.7" y2="32.6" stroke="#8a8a8a" stroke-width="0.8"/>
<rect x="885.3" y="35.4" width="10.3" height="69.7" fill="url(#pr2)" stroke="#a89494" stroke-width="0.8"/>
<line x1="890.5" y1="28.9" x2="890.5" y2="35.4" stroke="#8a8a8a" stroke-width="0.7"/>
<line x1="887.8" y1="28.9" x2="893.2" y2="28.9" stroke="#8a8a8a" stroke-width="0.8"/>
<rect x="909.2" y="34.1" width="10.2" height="71" fill="url(#pg1)" stroke="#b4b2bc" stroke-width="0.8"/>
<line x1="914.3" y1="30.4" x2="914.3" y2="34.1" stroke="#8a8a8a" stroke-width="0.7"/>
<line x1="911.6" y1="30.4" x2="917" y2="30.4" stroke="#8a8a8a" stroke-width="0.8"/>
<rect x="923.5" y="66.8" width="10.3" height="38.3" fill="url(#pr2)" stroke="#a89494" stroke-width="0.8"/>
<line x1="928.6" y1="64.9" x2="928.6" y2="66.8" stroke="#8a8a8a" stroke-width="0.7"/>
<line x1="925.9" y1="64.9" x2="931.4" y2="64.9" stroke="#8a8a8a" stroke-width="0.8"/>
<circle cx="926.2" cy="59.5" r="0.9" fill="#333"/>
<circle cx="928.6" cy="59.5" r="0.9" fill="#333"/>
<circle cx="931" cy="59.5" r="0.9" fill="#333"/>
<rect x="947.4" y="37.3" width="10.2" height="67.8" fill="url(#pg1)" stroke="#b4b2bc" stroke-width="0.8"/>
<line x1="952.5" y1="33.5" x2="952.5" y2="37.3" stroke="#8a8a8a" stroke-width="0.7"/>
<line x1="949.8" y1="33.5" x2="955.2" y2="33.5" stroke="#8a8a8a" stroke-width="0.8"/>
<rect x="961.7" y="73.3" width="10.3" height="31.8" fill="url(#pr2)" stroke="#a89494" stroke-width="0.8"/>
<line x1="966.9" y1="70.5" x2="966.9" y2="73.3" stroke="#8a8a8a" stroke-width="0.7"/>
<line x1="964.1" y1="70.5" x2="969.6" y2="70.5" stroke="#8a8a8a" stroke-width="0.8"/>
<circle cx="964.5" cy="65.1" r="0.9" fill="#333"/>
<circle cx="966.9" cy="65.1" r="0.9" fill="#333"/>
<circle cx="969.2" cy="65.1" r="0.9" fill="#333"/>
<rect x="985.6" y="34.8" width="9.8" height="70.3" fill="url(#pg1)" stroke="#b4b2bc" stroke-width="0.8"/>
<line x1="990.5" y1="30.2" x2="990.5" y2="34.8" stroke="#8a8a8a" stroke-width="0.7"/>
<line x1="987.8" y1="30.2" x2="993.2" y2="30.2" stroke="#8a8a8a" stroke-width="0.8"/>
<rect x="999.9" y="69.2" width="9.9" height="35.9" fill="url(#pr2)" stroke="#a89494" stroke-width="0.8"/>
<line x1="1004.8" y1="67.3" x2="1004.8" y2="69.2" stroke="#8a8a8a" stroke-width="0.7"/>
<line x1="1002.1" y1="67.3" x2="1007.5" y2="67.3" stroke="#8a8a8a" stroke-width="0.8"/>
<circle cx="1002.4" cy="61.7" r="0.9" fill="#333"/>
<circle cx="1004.8" cy="61.7" r="0.9" fill="#333"/>
<circle cx="1007.2" cy="61.7" r="0.9" fill="#333"/>
<line x1="866.3" y1="108.9" x2="1014.4" y2="108.9" stroke="#9c9c9c" stroke-width="1.35"/>
<line x1="883.1" y1="108.9" x2="883.1" y2="110.1" stroke="#666" stroke-width="0.6"/>
<text x="883.1" y="114.2" font-size="3.6" text-anchor="middle" font-weight="bold" fill="#333" >E</text>
<line x1="921.3" y1="108.9" x2="921.3" y2="110.1" stroke="#666" stroke-width="0.6"/>
<text x="921.3" y="114.2" font-size="3.6" text-anchor="middle" font-weight="bold" fill="#333" >M</text>
<line x1="959.5" y1="108.9" x2="959.5" y2="110.1" stroke="#666" stroke-width="0.6"/>
<text x="959.5" y="114.2" font-size="3.6" text-anchor="middle" font-weight="bold" fill="#333" >D1</text>
<line x1="997.7" y1="108.9" x2="997.7" y2="110.1" stroke="#666" stroke-width="0.6"/>
<text x="997.7" y="114.2" font-size="3.6" text-anchor="middle" font-weight="bold" fill="#333" >D2</text>
<rect x="866.3" y="16.6" width="4.6" height="3.2" fill="#52e03c" stroke="#3a7a30" stroke-width="0.4"/>
<rect x="866.3" y="24" width="4.6" height="3.2" fill="#e03434" stroke="#7a3030" stroke-width="0.4"/>
<text x="873.5" y="19.7" font-size="4.5" text-anchor="start" font-weight="normal" fill="#222" textLength="11.6" lengthAdjust="spacingAndGlyphs">Control</text>
<text x="873.5" y="27.1" font-size="4.5" text-anchor="start" font-weight="normal" fill="#222" textLength="10.4" lengthAdjust="spacingAndGlyphs">Model</text>
<text transform="translate(855.8,57.7) rotate(-90)" font-size="3.4" text-anchor="middle" fill="#222" font-weight="bold" textLength="39.3" lengthAdjust="spacingAndGlyphs">Central residence time(s)</text>
<text x="268.2" y="174" font-size="18.7" font-weight="bold" fill="#000">E</text>
<line x1="297.3" y1="171" x2="297.3" y2="267.6" stroke="#9c9c9c" stroke-width="1.35"/>
<line x1="295.8" y1="267.6" x2="297.3" y2="267.6" stroke="#8a8a8a" stroke-width="0.6"/>
<text x="295.5" y="268.8" font-size="3.6" text-anchor="end" font-weight="bold" fill="#222" >0.0</text>
<line x1="295.8" y1="248.3" x2="297.3" y2="248.3" stroke="#8a8a8a" stroke-width="0.6"/>
<text x="295.5" y="249.5" font-size="3.6" text-anchor="end" font-weight="bold" fill="#222" >0.1</text>
<line x1="295.8" y1="229" x2="297.3" y2="229" stroke="#8a8a8a" stroke-width="0.6"/>
<text x="295.5" y="230.2" font-size="3.6" text-anchor="end" font-weight="bold" fill="#222" >0.2</text>
<line x1="295.8" y1="209.6" x2="297.3" y2="209.6" stroke="#8a8a8a" stroke-width="0.6"/>
<text x="295.5" y="210.8" font-size="3.6" text-anchor="end" font-weight="bold" fill="#222" >0.3</text>
<line x1="295.8" y1="190.3" x2="297.3" y2="190.3" stroke="#8a8a8a" stroke-width="0.6"/>
<text x="295.5" y="191.5" font-size="3.6" text-anchor="end" font-weight="bold" fill="#222" >0.4</text>
<line x1="295.8" y1="171" x2="297.3" y2="171" stroke="#8a8a8a" stroke-width="0.6"/>
<text x="295.5" y="172.2" font-size="3.6" text-anchor="end" font-weight="bold" fill="#222" >0.5</text>
<rect x="306.3" y="199.8" width="11.3" height="67.8" fill="url(#pg1)" stroke="#b4b2bc" stroke-width="0.8"/>
<line x1="312" y1="196.3" x2="312" y2="199.8" stroke="#8a8a8a" stroke-width="0.7"/>
<line x1="309.3" y1="196.3" x2="314.7" y2="196.3" stroke="#8a8a8a" stroke-width="0.8"/>
<rect x="322.1" y="197.6" width="11.3" height="70" fill="url(#pg2)" stroke="#b4b2bc" stroke-width="0.8"/>
<line x1="327.8" y1="194" x2="327.8" y2="197.6" stroke="#8a8a8a" stroke-width="0.7"/>
<line x1="325.1" y1="194" x2="330.4" y2="194" stroke="#8a8a8a" stroke-width="0.8"/>
<rect x="338.4" y="201.2" width="10.9" height="66.4" fill="url(#pg1)" stroke="#b4b2bc" stroke-width="0.8"/>
<line x1="343.9" y1="197.1" x2="343.9" y2="201.2" stroke="#8a8a8a" stroke-width="0.7"/>
<line x1="341.2" y1="197.1" x2="346.6" y2="197.1" stroke="#8a8a8a" stroke-width="0.8"/>
<rect x="354.4" y="198.2" width="10.9" height="69.4" fill="url(#pg2)" stroke="#b4b2bc" stroke-width="0.8"/>
<line x1="359.9" y1="193.6" x2="359.9" y2="198.2" stroke="#8a8a8a" stroke-width="0.7"/>
<line x1="357.2" y1="193.6" x2="362.6" y2="193.6" stroke="#8a8a8a" stroke-width="0.8"/>
<rect x="381.1" y="198.5" width="10.9" height="69.1" fill="url(#pr1)" stroke="#a89494" stroke-width="0.8"/>
<line x1="386.6" y1="198" x2="386.6" y2="198.5" stroke="#8a8a8a" stroke-width="0.7"/>
<line x1="383.9" y1="198" x2="389.2" y2="198" stroke="#8a8a8a" stroke-width="0.8"/>
<rect x="397" y="197.3" width="11.3" height="70.3" fill="url(#pr2)" stroke="#a89494" stroke-width="0.8"/>
<line x1="402.6" y1="195.8" x2="402.6" y2="197.3" stroke="#8a8a8a" stroke-width="0.7"/>
<line x1="399.9" y1="195.8" x2="405.3" y2="195.8" stroke="#8a8a8a" stroke-width="0.8"/>
<rect x="412.8" y="198" width="11.2" height="69.6" fill="url(#pr1)" stroke="#a89494" stroke-width="0.8"/>
<line x1="418.4" y1="196.3" x2="418.4" y2="198" stroke="#8a8a8a" stroke-width="0.7"/>
<line x1="415.7" y1="196.3" x2="421.1" y2="196.3" stroke="#8a8a8a" stroke-width="0.8"/>
<rect x="429.1" y="197.1" width="10.9" height="70.5" fill="url(#pr2)" stroke="#a89494" stroke-width="0.8"/>
<line x1="434.6" y1="193.4" x2="434.6" y2="197.1" stroke="#8a8a8a" stroke-width="0.7"/>
<line x1="431.9" y1="193.4" x2="437.2" y2="193.4" stroke="#8a8a8a" stroke-width="0.8"/>
<line x1="300.9" y1="271.8" x2="445.4" y2="271.8" stroke="#9c9c9c" stroke-width="1.35"/>
<line x1="312" y1="271.8" x2="312" y2="273" stroke="#666" stroke-width="0.6"/>
<text x="312" y="275.7" font-size="3.6" text-anchor="middle" font-weight="bold" fill="#333" >E</text>
<line x1="327.8" y1="271.8" x2="327.8" y2="273" stroke="#666" stroke-width="0.6"/>
<text x="327.8" y="275.7" font-size="3.6" text-anchor="middle" font-weight="bold" fill="#333" >M</text>
<line x1="343.9" y1="271.8" x2="343.9" y2="273" stroke="#666" stroke-width="0.6"/>
<text x="343.9" y="275.7" font-size="3.6" text-anchor="middle" font-weight="bold" fill="#333" >D1</text>
<line x1="359.9" y1="271.8" x2="359.9" y2="273" stroke="#666" stroke-width="0.6"/>
<text x="359.9" y="275.7" font-size="3.6" text-anchor="middle" font-weight="bold" fill="#333" >D2</text>
<line x1="386.6" y1="271.8" x2="386.6" y2="273" stroke="#666" stroke-width="0.6"/>
<text x="386.6" y="275.7" font-size="3.6" text-anchor="middle" font-weight="bold" fill="#333" >E</text>
<line x1="402.6" y1="271.8" x2="402.6" y2="273" stroke="#666" stroke-width="0.6"/>
<text x="402.6" y="275.7" font-size="3.6" text-anchor="middle" font-weight="bold" fill="#333" >M</text>
<line x1="418.4" y1="271.8" x2="418.4" y2="273" stroke="#666" stroke-width="0.6"/>
<text x="418.4" y="275.7" font-size="3.6" text-anchor="middle" font-weight="bold" fill="#333" >D1</text>
<line x1="434.6" y1="271.8" x2="434.6" y2="273" stroke="#666" stroke-width="0.6"/>
<text x="434.6" y="275.7" font-size="3.6" text-anchor="middle" font-weight="bold" fill="#333" >D2</text>
<rect x="305.3" y="172.4" width="4.6" height="3.2" fill="#52e03c" stroke="#3a7a30" stroke-width="0.4"/>
<rect x="305.3" y="180.2" width="4.6" height="3.2" fill="#e03434" stroke="#7a3030" stroke-width="0.4"/>
<text x="311.5" y="175.5" font-size="4.5" text-anchor="start" font-weight="normal" fill="#222" textLength="11.6" lengthAdjust="spacingAndGlyphs">Control</text>
<text x="311.5" y="183.3" font-size="4.5" text-anchor="start" font-weight="normal" fill="#222" textLength="10.4" lengthAdjust="spacingAndGlyphs">Model</text>
<text transform="translate(290.6,220.5) rotate(-90)" font-size="3.4" text-anchor="middle" fill="#222" font-weight="bold" textLength="32" lengthAdjust="spacingAndGlyphs">Open arm entry(%)</text>
<text x="455.1" y="174" font-size="18.7" font-weight="bold" fill="#000">H</text>
<line x1="482.3" y1="168.2" x2="482.3" y2="264" stroke="#9c9c9c" stroke-width="1.35"/>
<line x1="480.8" y1="264" x2="482.3" y2="264" stroke="#8a8a8a" stroke-width="0.6"/>
<text x="480.5" y="265.2" font-size="3.6" text-anchor="end" font-weight="bold" fill="#222" >0.0</text>
<line x1="480.8" y1="240.1" x2="482.3" y2="240.1" stroke="#8a8a8a" stroke-width="0.6"/>
<text x="480.5" y="241.2" font-size="3.6" text-anchor="end" font-weight="bold" fill="#222" >0.1</text>
<line x1="480.8" y1="216.1" x2="482.3" y2="216.1" stroke="#8a8a8a" stroke-width="0.6"/>
<text x="480.5" y="217.3" font-size="3.6" text-anchor="end" font-weight="bold" fill="#222" >0.2</text>
<line x1="480.8" y1="192.1" x2="482.3" y2="192.1" stroke="#8a8a8a" stroke-width="0.6"/>
<text x="480.5" y="193.3" font-size="3.6" text-anchor="end" font-weight="bold" fill="#222" >0.3</text>
<line x1="480.8" y1="168.2" x2="482.3" y2="168.2" stroke="#8a8a8a" stroke-width="0.6"/>
<text x="480.5" y="169.4" font-size="3.6" text-anchor="end" font-weight="bold" fill="#222" >0.4</text>
<rect x="491.3" y="194.4" width="11.3" height="69.6" fill="url(#pg1)" stroke="#b4b2bc" stroke-width="0.8"/>
<line x1="497" y1="190.4" x2="497" y2="194.4" stroke="#8a8a8a" stroke-width="0.7"/>
<line x1="494.3" y1="190.4" x2="499.7" y2="190.4" stroke="#8a8a8a" stroke-width="0.8"/>
<rect x="507.7" y="192.2" width="11.2" height="71.8" fill="url(#pg2)" stroke="#b4b2bc" stroke-width="0.8"/>
<line x1="513.3" y1="188.2" x2="513.3" y2="192.2" stroke="#8a8a8a" stroke-width="0.7"/>
<line x1="510.6" y1="188.2" x2="516" y2="188.2" stroke="#8a8a8a" stroke-width="0.8"/>
<rect x="524.4" y="195.4" width="11.2" height="68.6" fill="url(#pg1)" stroke="#b4b2bc" stroke-width="0.8"/>
<line x1="530" y1="191.3" x2="530" y2="195.4" stroke="#8a8a8a" stroke-width="0.7"/>
<line x1="527.3" y1="191.3" x2="532.7" y2="191.3" stroke="#8a8a8a" stroke-width="0.8"/>
<rect x="540.7" y="192.7" width="11.2" height="71.3" fill="url(#pg2)" stroke="#b4b2bc" stroke-width="0.8"/>
<line x1="546.3" y1="188.2" x2="546.3" y2="192.7" stroke="#8a8a8a" stroke-width="0.7"/>
<line x1="543.6" y1="188.2" x2="549" y2="188.2" stroke="#8a8a8a" stroke-width="0.8"/>
<rect x="568.2" y="193.1" width="11.3" height="70.9" fill="url(#pr1)" stroke="#a89494" stroke-width="0.8"/>
<line x1="573.9" y1="186.4" x2="573.9" y2="193.1" stroke="#8a8a8a" stroke-width="0.7"/>
<line x1="571.1" y1="186.4" x2="576.6" y2="186.4" stroke="#8a8a8a" stroke-width="0.8"/>
<rect x="584.6" y="194" width="11.4" height="70" fill="url(#pr2)" stroke="#a89494" stroke-width="0.8"/>
<line x1="590.3" y1="189.5" x2="590.3" y2="194" stroke="#8a8a8a" stroke-width="0.7"/>
<line x1="587.6" y1="189.5" x2="593" y2="189.5" stroke="#8a8a8a" stroke-width="0.8"/>
<rect x="601.1" y="193.1" width="11.2" height="70.9" fill="url(#pr1)" stroke="#a89494" stroke-width="0.8"/>
<line x1="606.7" y1="190.4" x2="606.7" y2="193.1" stroke="#8a8a8a" stroke-width="0.7"/>
<line x1="604" y1="190.4" x2="609.4" y2="190.4" stroke="#8a8a8a" stroke-width="0.8"/>
<rect x="617.4" y="194.9" width="11.2" height="69.1" fill="url(#pr2)" stroke="#a89494" stroke-width="0.8"/>
<line x1="623" y1="191.8" x2="623" y2="194.9" stroke="#8a8a8a" stroke-width="0.7"/>
<line x1="620.3" y1="191.8" x2="625.7" y2="191.8" stroke="#8a8a8a" stroke-width="0.8"/>
<line x1="486.3" y1="268.1" x2="631.4" y2="268.1" stroke="#9c9c9c" stroke-width="1.35"/>
<line x1="497" y1="268.1" x2="497" y2="269.3" stroke="#666" stroke-width="0.6"/>
<text x="497" y="273" font-size="3.6" text-anchor="middle" font-weight="bold" fill="#333" >E</text>
<line x1="513.3" y1="268.1" x2="513.3" y2="269.3" stroke="#666" stroke-width="0.6"/>
<text x="513.3" y="273" font-size="3.6" text-anchor="middle" font-weight="bold" fill="#333" >M</text>
<line x1="530" y1="268.1" x2="530" y2="269.3" stroke="#666" stroke-width="0.6"/>
<text x="530" y="273" font-size="3.6" text-anchor="middle" font-weight="bold" fill="#333" >D1</text>
<line x1="546.3" y1="268.1" x2="546.3" y2="269.3" stroke="#666" stroke-width="0.6"/>
<text x="546.3" y="273" font-size="3.6" text-anchor="middle" font-weight="bold" fill="#333" >D2</text>
<line x1="573.9" y1="268.1" x2="573.9" y2="269.3" stroke="#666" stroke-width="0.6"/>
<text x="573.9" y="273" font-size="3.6" text-anchor="middle" font-weight="bold" fill="#333" >E</text>
<line x1="590.3" y1="268.1" x2="590.3" y2="269.3" stroke="#666" stroke-width="0.6"/>
<text x="590.3" y="273" font-size="3.6" text-anchor="middle" font-weight="bold" fill="#333" >M</text>
<line x1="606.7" y1="268.1" x2="606.7" y2="269.3" stroke="#666" stroke-width="0.6"/>
<text x="606.7" y="273" font-size="3.6" text-anchor="middle" font-weight="bold" fill="#333" >D1</text>
<line x1="623" y1="268.1" x2="623" y2="269.3" stroke="#666" stroke-width="0.6"/>
<text x="623" y="273" font-size="3.6" text-anchor="middle" font-weight="bold" fill="#333" >D2</text>
<rect x="488.1" y="171.4" width="4.6" height="3.2" fill="#52e03c" stroke="#3a7a30" stroke-width="0.4"/>
<rect x="488.1" y="177.6" width="4.6" height="3.2" fill="#e03434" stroke="#7a3030" stroke-width="0.4"/>
<text x="494.3" y="174.5" font-size="4.5" text-anchor="start" font-weight="normal" fill="#222" textLength="11.6" lengthAdjust="spacingAndGlyphs">Control</text>
<text x="494.3" y="180.7" font-size="4.5" text-anchor="start" font-weight="normal" fill="#222" textLength="10.4" lengthAdjust="spacingAndGlyphs">Model</text>
<text transform="translate(473.6,216.5) rotate(-90)" font-size="3.4" text-anchor="middle" fill="#222" font-weight="bold" textLength="30" lengthAdjust="spacingAndGlyphs">Open arm time(%)</text>
<text x="642.4" y="174" font-size="18.7" font-weight="bold" fill="#000">K</text>
<line x1="671.7" y1="167" x2="671.7" y2="267.6" stroke="#9c9c9c" stroke-width="1.35"/>
<line x1="670.2" y1="267.6" x2="671.7" y2="267.6" stroke="#8a8a8a" stroke-width="0.6"/>
<text x="669.9" y="268.8" font-size="3.6" text-anchor="end" font-weight="bold" fill="#222" >0</text>
<line x1="670.2" y1="247.5" x2="671.7" y2="247.5" stroke="#8a8a8a" stroke-width="0.6"/>
<text x="669.9" y="248.7" font-size="3.6" text-anchor="end" font-weight="bold" fill="#222" >5000</text>
<line x1="670.2" y1="227.4" x2="671.7" y2="227.4" stroke="#8a8a8a" stroke-width="0.6"/>
<text x="669.9" y="228.6" font-size="3.6" text-anchor="end" font-weight="bold" fill="#222" >10000</text>
<line x1="670.2" y1="207.2" x2="671.7" y2="207.2" stroke="#8a8a8a" stroke-width="0.6"/>
<text x="669.9" y="208.4" font-size="3.6" text-anchor="end" font-weight="bold" fill="#222" >15000</text>
<line x1="670.2" y1="187.1" x2="671.7" y2="187.1" stroke="#8a8a8a" stroke-width="0.6"/>
<text x="669.9" y="188.3" font-size="3.6" text-anchor="end" font-weight="bold" fill="#222" >20000</text>
<line x1="670.2" y1="167" x2="671.7" y2="167" stroke="#8a8a8a" stroke-width="0.6"/>
<text x="669.9" y="168.2" font-size="3.6" text-anchor="end" font-weight="bold" fill="#222" >25000</text>
<rect x="680.3" y="188.1" width="10.1" height="79.5" fill="url(#pg1)" stroke="#b4b2bc" stroke-width="0.8"/>
<line x1="685.3" y1="186.2" x2="685.3" y2="189.4" stroke="#8a8a8a" stroke-width="0.7"/>
<line x1="682.6" y1="186.2" x2="688" y2="186.2" stroke="#8a8a8a" stroke-width="0.8"/>
<line x1="682.7" y1="189.4" x2="687.9" y2="189.4" stroke="#555" stroke-width="0.9"/>
<rect x="694.8" y="183.7" width="10" height="83.9" fill="url(#pr2)" stroke="#8a6e6e" stroke-width="0.8"/>
<line x1="699.8" y1="178.5" x2="699.8" y2="189.4" stroke="#8a8a8a" stroke-width="0.7"/>
<line x1="697.1" y1="178.5" x2="702.5" y2="178.5" stroke="#8a8a8a" stroke-width="0.8"/>
<line x1="697.2" y1="189.4" x2="702.4" y2="189.4" stroke="#555" stroke-width="0.9"/>
<rect x="719.1" y="187.1" width="10" height="80.5" fill="url(#pg1)" stroke="#b4b2bc" stroke-width="0.8"/>
<line x1="724.1" y1="185.2" x2="724.1" y2="188.5" stroke="#8a8a8a" stroke-width="0.7"/>
<line x1="721.4" y1="185.2" x2="726.8" y2="185.2" stroke="#8a8a8a" stroke-width="0.8"/>
<line x1="721.5" y1="188.5" x2="726.7" y2="188.5" stroke="#555" stroke-width="0.9"/>
<rect x="733.5" y="186.2" width="10.1" height="81.4" fill="url(#pr2)" stroke="#8a6e6e" stroke-width="0.8"/>
<line x1="738.5" y1="185.8" x2="738.5" y2="186.8" stroke="#8a8a8a" stroke-width="0.7"/>
<line x1="735.8" y1="185.8" x2="741.2" y2="185.8" stroke="#8a8a8a" stroke-width="0.8"/>
<line x1="735.9" y1="186.8" x2="741.1" y2="186.8" stroke="#555" stroke-width="0.9"/>
<rect x="757.9" y="188.1" width="10" height="79.5" fill="url(#pg1)" stroke="#b4b2bc" stroke-width="0.8"/>
<line x1="762.9" y1="186.2" x2="762.9" y2="189.4" stroke="#8a8a8a" stroke-width="0.7"/>
<line x1="760.2" y1="186.2" x2="765.6" y2="186.2" stroke="#8a8a8a" stroke-width="0.8"/>
<line x1="760.3" y1="189.4" x2="765.5" y2="189.4" stroke="#555" stroke-width="0.9"/>
<rect x="772.3" y="186.2" width="10.3" height="81.4" fill="url(#pr2)" stroke="#8a6e6e" stroke-width="0.8"/>
<line x1="777.5" y1="185.6" x2="777.5" y2="186.8" stroke="#8a8a8a" stroke-width="0.7"/>
<line x1="774.8" y1="185.6" x2="780.2" y2="185.6" stroke="#8a8a8a" stroke-width="0.8"/>
<line x1="774.9" y1="186.8" x2="780.1" y2="186.8" stroke="#555" stroke-width="0.9"/>
<rect x="796.5" y="189.4" width="10" height="78.2" fill="url(#pg1)" stroke="#b4b2bc" stroke-width="0.8"/>
<line x1="801.5" y1="188.1" x2="801.5" y2="190.4" stroke="#8a8a8a" stroke-width="0.7"/>
<line x1="798.8" y1="188.1" x2="804.2" y2="188.1" stroke="#8a8a8a" stroke-width="0.8"/>
<line x1="798.9" y1="190.4" x2="804.1" y2="190.4" stroke="#555" stroke-width="0.9"/>
<rect x="811.3" y="186.9" width="10.1" height="80.7" fill="url(#pr2)" stroke="#8a6e6e" stroke-width="0.8"/>
<line x1="816.3" y1="185.6" x2="816.3" y2="187.5" stroke="#8a8a8a" stroke-width="0.7"/>
<line x1="813.6" y1="185.6" x2="819" y2="185.6" stroke="#8a8a8a" stroke-width="0.8"/>
<line x1="813.7" y1="187.5" x2="818.9" y2="187.5" stroke="#555" stroke-width="0.9"/>
<line x1="675.1" y1="271.8" x2="826.2" y2="271.8" stroke="#9c9c9c" stroke-width="1.35"/>
<line x1="692.3" y1="271.8" x2="692.3" y2="273" stroke="#666" stroke-width="0.6"/>
<text x="692.3" y="276.8" font-size="3.6" text-anchor="middle" font-weight="bold" fill="#333" >E</text>
<line x1="731.5" y1="271.8" x2="731.5" y2="273" stroke="#666" stroke-width="0.6"/>
<text x="731.5" y="276.8" font-size="3.6" text-anchor="middle" font-weight="bold" fill="#333" >M</text>
<line x1="769.8" y1="271.8" x2="769.8" y2="273" stroke="#666" stroke-width="0.6"/>
<text x="769.8" y="276.8" font-size="3.6" text-anchor="middle" font-weight="bold" fill="#333" >D1</text>
<line x1="808.4" y1="271.8" x2="808.4" y2="273" stroke="#666" stroke-width="0.6"/>
<text x="808.4" y="276.8" font-size="3.6" text-anchor="middle" font-weight="bold" fill="#333" >D2</text>
<rect x="674.2" y="170.1" width="4.6" height="3.2" fill="#52e03c" stroke="#3a7a30" stroke-width="0.4"/>
<rect x="674.2" y="178" width="4.6" height="3.2" fill="#e03434" stroke="#7a3030" stroke-width="0.4"/>
<text x="680.2" y="173.2" font-size="4.5" text-anchor="start" font-weight="normal" fill="#222" textLength="11.6" lengthAdjust="spacingAndGlyphs">Control</text>
<text x="680.2" y="181.1" font-size="4.5" text-anchor="start" font-weight="normal" fill="#222" textLength="10.4" lengthAdjust="spacingAndGlyphs">Model</text>
<text transform="translate(661.1,215.6) rotate(-90)" font-size="3.4" text-anchor="middle" fill="#222" font-weight="bold" textLength="34.5" lengthAdjust="spacingAndGlyphs">Total distance (mm)</text>
<text x="837.1" y="174" font-size="18.7" font-weight="bold" fill="#000">N</text>
<line x1="867.3" y1="168.6" x2="867.3" y2="263.8" stroke="#9c9c9c" stroke-width="1.35"/>
<line x1="865.8" y1="263.8" x2="867.3" y2="263.8" stroke="#8a8a8a" stroke-width="0.6"/>
<text x="865.5" y="265" font-size="3.6" text-anchor="end" font-weight="bold" fill="#222" >0</text>
<line x1="865.8" y1="240" x2="867.3" y2="240" stroke="#8a8a8a" stroke-width="0.6"/>
<text x="865.5" y="241.2" font-size="3.6" text-anchor="end" font-weight="bold" fill="#222" >10</text>
<line x1="865.8" y1="216.2" x2="867.3" y2="216.2" stroke="#8a8a8a" stroke-width="0.6"/>
<text x="865.5" y="217.4" font-size="3.6" text-anchor="end" font-weight="bold" fill="#222" >20</text>
<line x1="865.8" y1="192.4" x2="867.3" y2="192.4" stroke="#8a8a8a" stroke-width="0.6"/>
<text x="865.5" y="193.6" font-size="3.6" text-anchor="end" font-weight="bold" fill="#222" >30</text>
<line x1="865.8" y1="168.6" x2="867.3" y2="168.6" stroke="#8a8a8a" stroke-width="0.6"/>
<text x="865.5" y="169.8" font-size="3.6" text-anchor="end" font-weight="bold" fill="#222" >40</text>
<rect x="875.3" y="194.7" width="9.3" height="69.1" fill="url(#pg1)" stroke="#b4b2bc" stroke-width="0.8"/>
<line x1="880" y1="190.8" x2="880" y2="194.7" stroke="#8a8a8a" stroke-width="0.7"/>
<line x1="877.2" y1="190.8" x2="882.7" y2="190.8" stroke="#8a8a8a" stroke-width="0.8"/>
<rect x="889.2" y="193.6" width="9.7" height="70.2" fill="url(#pr2)" stroke="#a89494" stroke-width="0.8"/>
<line x1="894" y1="187.2" x2="894" y2="193.6" stroke="#8a8a8a" stroke-width="0.7"/>
<line x1="891.3" y1="187.2" x2="896.8" y2="187.2" stroke="#8a8a8a" stroke-width="0.8"/>
<rect x="912.5" y="192.3" width="9.3" height="71.5" fill="url(#pg1)" stroke="#b4b2bc" stroke-width="0.8"/>
<line x1="917.1" y1="188.9" x2="917.1" y2="192.3" stroke="#8a8a8a" stroke-width="0.7"/>
<line x1="914.4" y1="188.9" x2="919.9" y2="188.9" stroke="#8a8a8a" stroke-width="0.8"/>
<rect x="926.3" y="194.5" width="9.5" height="69.3" fill="url(#pr2)" stroke="#a89494" stroke-width="0.8"/>
<line x1="931" y1="190.4" x2="931" y2="194.5" stroke="#8a8a8a" stroke-width="0.7"/>
<line x1="928.3" y1="190.4" x2="933.8" y2="190.4" stroke="#8a8a8a" stroke-width="0.8"/>
<rect x="949.6" y="196" width="9.5" height="67.8" fill="url(#pg1)" stroke="#b4b2bc" stroke-width="0.8"/>
<line x1="954.4" y1="191.7" x2="954.4" y2="196" stroke="#8a8a8a" stroke-width="0.7"/>
<line x1="951.6" y1="191.7" x2="957.1" y2="191.7" stroke="#8a8a8a" stroke-width="0.8"/>
<rect x="963.6" y="193.6" width="9.5" height="70.2" fill="url(#pr2)" stroke="#a89494" stroke-width="0.8"/>
<line x1="968.4" y1="190.4" x2="968.4" y2="193.6" stroke="#8a8a8a" stroke-width="0.7"/>
<line x1="965.6" y1="190.4" x2="971.1" y2="190.4" stroke="#8a8a8a" stroke-width="0.8"/>
<rect x="986.9" y="193.2" width="9.5" height="70.6" fill="url(#pg1)" stroke="#b4b2bc" stroke-width="0.8"/>
<line x1="991.6" y1="188.5" x2="991.6" y2="193.2" stroke="#8a8a8a" stroke-width="0.7"/>
<line x1="988.9" y1="188.5" x2="994.4" y2="188.5" stroke="#8a8a8a" stroke-width="0.8"/>
<rect x="1000.5" y="195.1" width="9.8" height="68.7" fill="url(#pr2)" stroke="#a89494" stroke-width="0.8"/>
<line x1="1005.4" y1="192.3" x2="1005.4" y2="195.1" stroke="#8a8a8a" stroke-width="0.7"/>
<line x1="1002.7" y1="192.3" x2="1008.1" y2="192.3" stroke="#8a8a8a" stroke-width="0.8"/>
<line x1="871.4" y1="268.1" x2="1014.4" y2="268.1" stroke="#9c9c9c" stroke-width="1.35"/>
<line x1="886.8" y1="268.1" x2="886.8" y2="269.3" stroke="#666" stroke-width="0.6"/>
<text x="886.8" y="272.1" font-size="3.6" text-anchor="middle" font-weight="bold" fill="#333" >E</text>
<line x1="924.1" y1="268.1" x2="924.1" y2="269.3" stroke="#666" stroke-width="0.6"/>
<text x="924.1" y="272.1" font-size="3.6" text-anchor="middle" font-weight="bold" fill="#333" >M</text>
<line x1="961.3" y1="268.1" x2="961.3" y2="269.3" stroke="#666" stroke-width="0.6"/>
<text x="961.3" y="272.1" font-size="3.6" text-anchor="middle" font-weight="bold" fill="#333" >D1</text>
<line x1="998.6" y1="268.1" x2="998.6" y2="269.3" stroke="#666" stroke-width="0.6"/>
<text x="998.6" y="272.1" font-size="3.6" text-anchor="middle" font-weight="bold" fill="#333" >D2</text>
<rect x="873.2" y="177.4" width="4.6" height="3.2" fill="#52e03c" stroke="#3a7a30" stroke-width="0.4"/>
<rect x="873.2" y="183.5" width="4.6" height="3.2" fill="#e03434" stroke="#7a3030" stroke-width="0.4"/>
<text x="879.1" y="180.5" font-size="4.5" text-anchor="start" font-weight="normal" fill="#222" textLength="11.6" lengthAdjust="spacingAndGlyphs">Control</text>
<text x="879.1" y="186.6" font-size="4.5" text-anchor="start" font-weight="normal" fill="#222" textLength="10.4" lengthAdjust="spacingAndGlyphs">Model</text>
<text transform="translate(861,216.2) rotate(-90)" font-size="3.4" text-anchor="middle" fill="#222" font-weight="bold" textLength="40.7" lengthAdjust="spacingAndGlyphs">Central residence time(s)</text>
<text x="268.2" y="341" font-size="18.7" font-weight="bold" fill="#000">F</text>
<line x1="294" y1="333.2" x2="294" y2="427" stroke="#9c9c9c" stroke-width="1.35"/>
<line x1="292.5" y1="427" x2="294" y2="427" stroke="#8a8a8a" stroke-width="0.6"/>
<text x="292.2" y="428.2" font-size="3.6" text-anchor="end" font-weight="bold" fill="#222" >0.0</text>
<line x1="292.5" y1="403.6" x2="294" y2="403.6" stroke="#8a8a8a" stroke-width="0.6"/>
<text x="292.2" y="404.8" font-size="3.6" text-anchor="end" font-weight="bold" fill="#222" >0.1</text>
<line x1="292.5" y1="380.1" x2="294" y2="380.1" stroke="#8a8a8a" stroke-width="0.6"/>
<text x="292.2" y="381.3" font-size="3.6" text-anchor="end" font-weight="bold" fill="#222" >0.2</text>
<line x1="292.5" y1="356.6" x2="294" y2="356.6" stroke="#8a8a8a" stroke-width="0.6"/>
<text x="292.2" y="357.8" font-size="3.6" text-anchor="end" font-weight="bold" fill="#222" >0.3</text>
<line x1="292.5" y1="333.2" x2="294" y2="333.2" stroke="#8a8a8a" stroke-width="0.6"/>
<text x="292.2" y="334.4" font-size="3.6" text-anchor="end" font-weight="bold" fill="#222" >0.4</text>
<rect x="303.1" y="342.9" width="10.9" height="84.1" fill="url(#pg1)" stroke="#b4b2bc" stroke-width="0.8"/>
<line x1="308.6" y1="341" x2="308.6" y2="342.9" stroke="#8a8a8a" stroke-width="0.7"/>
<line x1="305.9" y1="341" x2="311.2" y2="341" stroke="#8a8a8a" stroke-width="0.8"/>
<rect x="319" y="343.2" width="11.3" height="83.8" fill="url(#pg2)" stroke="#b4b2bc" stroke-width="0.8"/>
<line x1="324.6" y1="340.1" x2="324.6" y2="343.2" stroke="#8a8a8a" stroke-width="0.7"/>
<line x1="321.9" y1="340.1" x2="327.3" y2="340.1" stroke="#8a8a8a" stroke-width="0.8"/>
<rect x="335.2" y="342.5" width="11.4" height="84.5" fill="url(#pg1)" stroke="#b4b2bc" stroke-width="0.8"/>
<line x1="340.9" y1="340.1" x2="340.9" y2="342.5" stroke="#8a8a8a" stroke-width="0.7"/>
<line x1="338.2" y1="340.1" x2="343.6" y2="340.1" stroke="#8a8a8a" stroke-width="0.8"/>
<rect x="351.5" y="345.6" width="11.1" height="81.4" fill="url(#pg2)" stroke="#b4b2bc" stroke-width="0.8"/>
<line x1="357.1" y1="343.4" x2="357.1" y2="345.6" stroke="#8a8a8a" stroke-width="0.7"/>
<line x1="354.4" y1="343.4" x2="359.8" y2="343.4" stroke="#8a8a8a" stroke-width="0.8"/>
<rect x="378.3" y="349.2" width="10.9" height="77.8" fill="url(#pr1)" stroke="#a89494" stroke-width="0.8"/>
<line x1="383.8" y1="346.5" x2="383.8" y2="349.2" stroke="#8a8a8a" stroke-width="0.7"/>
<line x1="381.1" y1="346.5" x2="386.4" y2="346.5" stroke="#8a8a8a" stroke-width="0.8"/>
<rect x="394.3" y="365.5" width="11.3" height="61.5" fill="url(#pr2)" stroke="#a89494" stroke-width="0.8"/>
<line x1="400" y1="364.1" x2="400" y2="365.5" stroke="#8a8a8a" stroke-width="0.7"/>
<line x1="397.3" y1="364.1" x2="402.7" y2="364.1" stroke="#8a8a8a" stroke-width="0.8"/>
<circle cx="400" cy="360.4" r="0.9" fill="#333"/>
<rect x="410.1" y="377.9" width="11.2" height="49.1" fill="url(#pr1)" stroke="#a89494" stroke-width="0.8"/>
<line x1="415.7" y1="371.3" x2="415.7" y2="377.9" stroke="#8a8a8a" stroke-width="0.7"/>
<line x1="413" y1="371.3" x2="418.4" y2="371.3" stroke="#8a8a8a" stroke-width="0.8"/>
<circle cx="414.5" cy="368.2" r="0.9" fill="#333"/>
<circle cx="416.9" cy="368.2" r="0.9" fill="#333"/>
<rect x="426.4" y="367.3" width="10.9" height="59.7" fill="url(#pr2)" stroke="#a89494" stroke-width="0.8"/>
<line x1="431.9" y1="363.3" x2="431.9" y2="367.3" stroke="#8a8a8a" stroke-width="0.7"/>
<line x1="429.2" y1="363.3" x2="434.6" y2="363.3" stroke="#8a8a8a" stroke-width="0.8"/>
<circle cx="431.9" cy="360.1" r="0.9" fill="#333"/>
<line x1="298" y1="431" x2="443.3" y2="431" stroke="#9c9c9c" stroke-width="1.35"/>
<line x1="308.6" y1="431" x2="308.6" y2="432.2" stroke="#666" stroke-width="0.6"/>
<text x="308.6" y="435.4" font-size="3.6" text-anchor="middle" font-weight="bold" fill="#333" >E</text>
<line x1="324.6" y1="431" x2="324.6" y2="432.2" stroke="#666" stroke-width="0.6"/>
<text x="324.6" y="435.4" font-size="3.6" text-anchor="middle" font-weight="bold" fill="#333" >M</text>
<line x1="340.9" y1="431" x2="340.9" y2="432.2" stroke="#666" stroke-width="0.6"/>
<text x="340.9" y="435.4" font-size="3.6" text-anchor="middle" font-weight="bold" fill="#333" >D1</text>
<line x1="357.1" y1="431" x2="357.1" y2="432.2" stroke="#666" stroke-width="0.6"/>
<text x="357.1" y="435.4" font-size="3.6" text-anchor="middle" font-weight="bold" fill="#333" >D2</text>
<line x1="383.8" y1="431" x2="383.8" y2="432.2" stroke="#666" stroke-width="0.6"/>
<text x="383.8" y="435.4" font-size="3.6" text-anchor="middle" font-weight="bold" fill="#333" >E</text>
<line x1="400" y1="431" x2="400" y2="432.2" stroke="#666" stroke-width="0.6"/>
<text x="400" y="435.4" font-size="3.6" text-anchor="middle" font-weight="bold" fill="#333" >M</text>
<line x1="415.7" y1="431" x2="415.7" y2="432.2" stroke="#666" stroke-width="0.6"/>
<text x="415.7" y="435.4" font-size="3.6" text-anchor="middle" font-weight="bold" fill="#333" >D1</text>
<line x1="431.9" y1="431" x2="431.9" y2="432.2" stroke="#666" stroke-width="0.6"/>
<text x="431.9" y="435.4" font-size="3.6" text-anchor="middle" font-weight="bold" fill="#333" >D2</text>
<rect x="296.7" y="328.7" width="4.6" height="3.2" fill="#52e03c" stroke="#3a7a30" stroke-width="0.4"/>
<rect x="296.7" y="334.4" width="4.6" height="3.2" fill="#e03434" stroke="#7a3030" stroke-width="0.4"/>
<text x="302.8" y="331.8" font-size="4.5" text-anchor="start" font-weight="normal" fill="#222" textLength="11.6" lengthAdjust="spacingAndGlyphs">Control</text>
<text x="302.8" y="337.5" font-size="4.5" text-anchor="start" font-weight="normal" fill="#222" textLength="10.4" lengthAdjust="spacingAndGlyphs">Model</text>
<text transform="translate(287.3,380.6) rotate(-90)" font-size="3.4" text-anchor="middle" fill="#222" font-weight="bold" textLength="29.6" lengthAdjust="spacingAndGlyphs">Open arm entry(%)</text>
<text x="455.6" y="341" font-size="18.7" font-weight="bold" fill="#000">I</text>
<line x1="479.4" y1="333.8" x2="479.4" y2="428.2" stroke="#9c9c9c" stroke-width="1.35"/>
<line x1="477.9" y1="428.2" x2="479.4" y2="428.2" stroke="#8a8a8a" stroke-width="0.6"/>
<text x="477.6" y="429.4" font-size="3.6" text-anchor="end" font-weight="bold" fill="#222" >0.0</text>
<line x1="477.9" y1="404.6" x2="479.4" y2="404.6" stroke="#8a8a8a" stroke-width="0.6"/>
<text x="477.6" y="405.8" font-size="3.6" text-anchor="end" font-weight="bold" fill="#222" >0.1</text>
<line x1="477.9" y1="381" x2="479.4" y2="381" stroke="#8a8a8a" stroke-width="0.6"/>
<text x="477.6" y="382.2" font-size="3.6" text-anchor="end" font-weight="bold" fill="#222" >0.2</text>
<line x1="477.9" y1="357.4" x2="479.4" y2="357.4" stroke="#8a8a8a" stroke-width="0.6"/>
<text x="477.6" y="358.6" font-size="3.6" text-anchor="end" font-weight="bold" fill="#222" >0.3</text>
<line x1="477.9" y1="333.8" x2="479.4" y2="333.8" stroke="#8a8a8a" stroke-width="0.6"/>
<text x="477.6" y="335" font-size="3.6" text-anchor="end" font-weight="bold" fill="#222" >0.4</text>
<rect x="488.4" y="360.4" width="11.1" height="67.8" fill="url(#pg1)" stroke="#b4b2bc" stroke-width="0.8"/>
<line x1="493.9" y1="356.8" x2="493.9" y2="360.4" stroke="#8a8a8a" stroke-width="0.7"/>
<line x1="491.2" y1="356.8" x2="496.6" y2="356.8" stroke="#8a8a8a" stroke-width="0.8"/>
<rect x="504.8" y="356.1" width="11" height="72.1" fill="url(#pg2)" stroke="#b4b2bc" stroke-width="0.8"/>
<line x1="510.3" y1="351" x2="510.3" y2="356.1" stroke="#8a8a8a" stroke-width="0.7"/>
<line x1="507.6" y1="351" x2="513" y2="351" stroke="#8a8a8a" stroke-width="0.8"/>
<rect x="521.1" y="358.3" width="11.1" height="69.9" fill="url(#pg1)" stroke="#b4b2bc" stroke-width="0.8"/>
<line x1="526.7" y1="354.3" x2="526.7" y2="358.3" stroke="#8a8a8a" stroke-width="0.7"/>
<line x1="524" y1="354.3" x2="529.4" y2="354.3" stroke="#8a8a8a" stroke-width="0.8"/>
<rect x="537.4" y="353.7" width="11.1" height="74.5" fill="url(#pg2)" stroke="#b4b2bc" stroke-width="0.8"/>
<line x1="543" y1="349.6" x2="543" y2="353.7" stroke="#8a8a8a" stroke-width="0.7"/>
<line x1="540.2" y1="349.6" x2="545.7" y2="349.6" stroke="#8a8a8a" stroke-width="0.8"/>
<rect x="564.3" y="357.7" width="11.2" height="70.5" fill="url(#pr1)" stroke="#a89494" stroke-width="0.8"/>
<line x1="569.9" y1="351.4" x2="569.9" y2="357.7" stroke="#8a8a8a" stroke-width="0.7"/>
<line x1="567.2" y1="351.4" x2="572.6" y2="351.4" stroke="#8a8a8a" stroke-width="0.8"/>
<rect x="580.6" y="388.7" width="11.2" height="39.5" fill="url(#pr2)" stroke="#a89494" stroke-width="0.8"/>
<line x1="586.2" y1="387.4" x2="586.2" y2="388.7" stroke="#8a8a8a" stroke-width="0.7"/>
<line x1="583.5" y1="387.4" x2="588.9" y2="387.4" stroke="#8a8a8a" stroke-width="0.8"/>
<circle cx="585" cy="380.9" r="0.9" fill="#333"/>
<circle cx="587.4" cy="380.9" r="0.9" fill="#333"/>
<rect x="596.9" y="396" width="11.2" height="32.2" fill="url(#pr1)" stroke="#a89494" stroke-width="0.8"/>
<line x1="602.5" y1="393.2" x2="602.5" y2="396" stroke="#8a8a8a" stroke-width="0.7"/>
<line x1="599.8" y1="393.2" x2="605.2" y2="393.2" stroke="#8a8a8a" stroke-width="0.8"/>
<circle cx="600.1" cy="388.7" r="0.9" fill="#333"/>
<circle cx="602.5" cy="388.7" r="0.9" fill="#333"/>
<circle cx="604.9" cy="388.7" r="0.9" fill="#333"/>
<rect x="613.2" y="387.4" width="11.3" height="40.8" fill="url(#pr2)" stroke="#a89494" stroke-width="0.8"/>
<line x1="618.9" y1="385.3" x2="618.9" y2="387.4" stroke="#8a8a8a" stroke-width="0.7"/>
<line x1="616.1" y1="385.3" x2="621.6" y2="385.3" stroke="#8a8a8a" stroke-width="0.8"/>
<circle cx="617.6" cy="380" r="0.9" fill="#333"/>
<circle cx="620" cy="380" r="0.9" fill="#333"/>
<line x1="483" y1="432.2" x2="629.5" y2="432.2" stroke="#9c9c9c" stroke-width="1.35"/>
<line x1="493.9" y1="432.2" x2="493.9" y2="433.4" stroke="#666" stroke-width="0.6"/>
<text x="493.9" y="437.1" font-size="3.6" text-anchor="middle" font-weight="bold" fill="#333" >E</text>
<line x1="510.3" y1="432.2" x2="510.3" y2="433.4" stroke="#666" stroke-width="0.6"/>
<text x="510.3" y="437.1" font-size="3.6" text-anchor="middle" font-weight="bold" fill="#333" >M</text>
<line x1="526.7" y1="432.2" x2="526.7" y2="433.4" stroke="#666" stroke-width="0.6"/>
<text x="526.7" y="437.1" font-size="3.6" text-anchor="middle" font-weight="bold" fill="#333" >D1</text>
<line x1="543" y1="432.2" x2="543" y2="433.4" stroke="#666" stroke-width="0.6"/>
<text x="543" y="437.1" font-size="3.6" text-anchor="middle" font-weight="bold" fill="#333" >D2</text>
<line x1="569.9" y1="432.2" x2="569.9" y2="433.4" stroke="#666" stroke-width="0.6"/>
<text x="569.9" y="437.1" font-size="3.6" text-anchor="middle" font-weight="bold" fill="#333" >E</text>
<line x1="586.2" y1="432.2" x2="586.2" y2="433.4" stroke="#666" stroke-width="0.6"/>
<text x="586.2" y="437.1" font-size="3.6" text-anchor="middle" font-weight="bold" fill="#333" >M</text>
<line x1="602.5" y1="432.2" x2="602.5" y2="433.4" stroke="#666" stroke-width="0.6"/>
<text x="602.5" y="437.1" font-size="3.6" text-anchor="middle" font-weight="bold" fill="#333" >D1</text>
<line x1="618.9" y1="432.2" x2="618.9" y2="433.4" stroke="#666" stroke-width="0.6"/>
<text x="618.9" y="437.1" font-size="3.6" text-anchor="middle" font-weight="bold" fill="#333" >D2</text>
<rect x="483" y="339.4" width="4.6" height="3.2" fill="#52e03c" stroke="#3a7a30" stroke-width="0.4"/>
<rect x="483" y="346.7" width="4.6" height="3.2" fill="#e03434" stroke="#7a3030" stroke-width="0.4"/>
<text x="489.8" y="342.5" font-size="4.5" text-anchor="start" font-weight="normal" fill="#222" textLength="11.6" lengthAdjust="spacingAndGlyphs">Control</text>
<text x="489.8" y="349.8" font-size="4.5" text-anchor="start" font-weight="normal" fill="#222" textLength="10.4" lengthAdjust="spacingAndGlyphs">Model</text>
<text transform="translate(472.3,381.8) rotate(-90)" font-size="3.4" text-anchor="middle" fill="#222" font-weight="bold" textLength="32" lengthAdjust="spacingAndGlyphs">Open arm time(%)</text>
<text x="642.4" y="341" font-size="18.7" font-weight="bold" fill="#000">L</text>
<line x1="673.8" y1="333.9" x2="673.8" y2="432.7" stroke="#9c9c9c" stroke-width="1.35"/>
<line x1="672.3" y1="432.7" x2="673.8" y2="432.7" stroke="#8a8a8a" stroke-width="0.6"/>
<text x="672" y="433.9" font-size="3.6" text-anchor="end" font-weight="bold" fill="#222" >0</text>
<line x1="672.3" y1="399.8" x2="673.8" y2="399.8" stroke="#8a8a8a" stroke-width="0.6"/>
<text x="672" y="401" font-size="3.6" text-anchor="end" font-weight="bold" fill="#222" >10000</text>
<line x1="672.3" y1="366.8" x2="673.8" y2="366.8" stroke="#8a8a8a" stroke-width="0.6"/>
<text x="672" y="368" font-size="3.6" text-anchor="end" font-weight="bold" fill="#222" >20000</text>
<line x1="672.3" y1="333.9" x2="673.8" y2="333.9" stroke="#8a8a8a" stroke-width="0.6"/>
<text x="672" y="335.1" font-size="3.6" text-anchor="end" font-weight="bold" fill="#222" >30000</text>
<rect x="681.5" y="367.5" width="9.5" height="65.2" fill="url(#pg1)" stroke="#b4b2bc" stroke-width="0.8"/>
<line x1="686.2" y1="365.6" x2="686.2" y2="368.3" stroke="#8a8a8a" stroke-width="0.7"/>
<line x1="683.5" y1="365.6" x2="689" y2="365.6" stroke="#8a8a8a" stroke-width="0.8"/>
<line x1="683.6" y1="368.3" x2="688.9" y2="368.3" stroke="#555" stroke-width="0.9"/>
<rect x="695.6" y="375.1" width="10.1" height="57.6" fill="url(#pr2)" stroke="#8a6e6e" stroke-width="0.8"/>
<line x1="700.7" y1="367.9" x2="700.7" y2="382.2" stroke="#8a8a8a" stroke-width="0.7"/>
<line x1="698" y1="367.9" x2="703.4" y2="367.9" stroke="#8a8a8a" stroke-width="0.8"/>
<line x1="698.1" y1="382.2" x2="703.3" y2="382.2" stroke="#555" stroke-width="0.9"/>
<rect x="719.1" y="367.3" width="9.6" height="65.4" fill="url(#pg1)" stroke="#b4b2bc" stroke-width="0.8"/>
<line x1="723.9" y1="365.4" x2="723.9" y2="369.4" stroke="#8a8a8a" stroke-width="0.7"/>
<line x1="721.2" y1="365.4" x2="726.6" y2="365.4" stroke="#8a8a8a" stroke-width="0.8"/>
<line x1="721.3" y1="369.4" x2="726.5" y2="369.4" stroke="#555" stroke-width="0.9"/>
<rect x="733.5" y="352" width="9.5" height="80.7" fill="url(#pr2)" stroke="#8a6e6e" stroke-width="0.8"/>
<line x1="738.2" y1="350.7" x2="738.2" y2="353" stroke="#8a8a8a" stroke-width="0.7"/>
<line x1="735.5" y1="350.7" x2="741" y2="350.7" stroke="#8a8a8a" stroke-width="0.8"/>
<line x1="735.6" y1="353" x2="740.9" y2="353" stroke="#555" stroke-width="0.9"/>
<circle cx="735.9" cy="346.3" r="0.9" fill="#333"/>
<circle cx="738.2" cy="346.3" r="0.9" fill="#333"/>
<circle cx="740.6" cy="346.3" r="0.9" fill="#333"/>
<rect x="757" y="367.3" width="9.5" height="65.4" fill="url(#pg1)" stroke="#b4b2bc" stroke-width="0.8"/>
<line x1="761.8" y1="365.4" x2="761.8" y2="369.2" stroke="#8a8a8a" stroke-width="0.7"/>
<line x1="759" y1="365.4" x2="764.5" y2="365.4" stroke="#8a8a8a" stroke-width="0.8"/>
<line x1="759.1" y1="369.2" x2="764.4" y2="369.2" stroke="#555" stroke-width="0.9"/>
<rect x="771.1" y="341.5" width="9.8" height="91.2" fill="url(#pr2)" stroke="#8a6e6e" stroke-width="0.8"/>
<line x1="776" y1="339.6" x2="776" y2="344" stroke="#8a8a8a" stroke-width="0.7"/>
<line x1="773.3" y1="339.6" x2="778.7" y2="339.6" stroke="#8a8a8a" stroke-width="0.8"/>
<line x1="773.4" y1="344" x2="778.6" y2="344" stroke="#555" stroke-width="0.9"/>
<circle cx="773.6" cy="335.4" r="0.9" fill="#333"/>
<circle cx="776" cy="335.4" r="0.9" fill="#333"/>
<circle cx="778.4" cy="335.4" r="0.9" fill="#333"/>
<rect x="794.6" y="372.3" width="10" height="60.4" fill="url(#pg1)" stroke="#b4b2bc" stroke-width="0.8"/>
<line x1="799.6" y1="370.2" x2="799.6" y2="374" stroke="#8a8a8a" stroke-width="0.7"/>
<line x1="796.9" y1="370.2" x2="802.3" y2="370.2" stroke="#8a8a8a" stroke-width="0.8"/>
<line x1="797" y1="374" x2="802.2" y2="374" stroke="#555" stroke-width="0.9"/>
<rect x="809" y="350.7" width="9.5" height="82" fill="url(#pr2)" stroke="#8a6e6e" stroke-width="0.8"/>
<line x1="813.8" y1="349.3" x2="813.8" y2="351.2" stroke="#8a8a8a" stroke-width="0.7"/>
<line x1="811" y1="349.3" x2="816.5" y2="349.3" stroke="#8a8a8a" stroke-width="0.8"/>
<line x1="811.1" y1="351.2" x2="816.4" y2="351.2" stroke="#555" stroke-width="0.9"/>
<circle cx="811.4" cy="344" r="0.9" fill="#333"/>
<circle cx="813.8" cy="344" r="0.9" fill="#333"/>
<circle cx="816.1" cy="344" r="0.9" fill="#333"/>
<line x1="677.1" y1="436.5" x2="823.3" y2="436.5" stroke="#9c9c9c" stroke-width="1.35"/>
<line x1="693.3" y1="436.5" x2="693.3" y2="437.7" stroke="#666" stroke-width="0.6"/>
<text x="693.3" y="440.9" font-size="3.6" text-anchor="middle" font-weight="bold" fill="#333" >E</text>
<line x1="731.5" y1="436.5" x2="731.5" y2="437.7" stroke="#666" stroke-width="0.6"/>
<text x="731.5" y="440.9" font-size="3.6" text-anchor="middle" font-weight="bold" fill="#333" >M</text>
<line x1="769.4" y1="436.5" x2="769.4" y2="437.7" stroke="#666" stroke-width="0.6"/>
<text x="769.4" y="440.9" font-size="3.6" text-anchor="middle" font-weight="bold" fill="#333" >D1</text>
<line x1="807" y1="436.5" x2="807" y2="437.7" stroke="#666" stroke-width="0.6"/>
<text x="807" y="440.9" font-size="3.6" text-anchor="middle" font-weight="bold" fill="#333" >D2</text>
<rect x="680.9" y="342.9" width="4.6" height="3.2" fill="#52e03c" stroke="#3a7a30" stroke-width="0.4"/>
<rect x="680.9" y="348.6" width="4.6" height="3.2" fill="#e03434" stroke="#7a3030" stroke-width="0.4"/>
<text x="686.9" y="346" font-size="4.5" text-anchor="start" font-weight="normal" fill="#222" textLength="11.6" lengthAdjust="spacingAndGlyphs">Control</text>
<text x="686.9" y="351.7" font-size="4.5" text-anchor="start" font-weight="normal" fill="#222" textLength="10.4" lengthAdjust="spacingAndGlyphs">Model</text>
<text transform="translate(662.3,383) rotate(-90)" font-size="3.4" text-anchor="middle" fill="#222" font-weight="bold" textLength="32" lengthAdjust="spacingAndGlyphs">Total distance (mm)</text>
<text x="837" y="341" font-size="18.7" font-weight="bold" fill="#000">O</text>
<line x1="867.8" y1="335" x2="867.8" y2="430.4" stroke="#9c9c9c" stroke-width="1.35"/>
<line x1="866.3" y1="430.4" x2="867.8" y2="430.4" stroke="#8a8a8a" stroke-width="0.6"/>
<text x="866" y="431.6" font-size="3.6" text-anchor="end" font-weight="bold" fill="#222" >0</text>
<line x1="866.3" y1="406.5" x2="867.8" y2="406.5" stroke="#8a8a8a" stroke-width="0.6"/>
<text x="866" y="407.7" font-size="3.6" text-anchor="end" font-weight="bold" fill="#222" >10</text>
<line x1="866.3" y1="382.7" x2="867.8" y2="382.7" stroke="#8a8a8a" stroke-width="0.6"/>
<text x="866" y="383.9" font-size="3.6" text-anchor="end" font-weight="bold" fill="#222" >20</text>
<line x1="866.3" y1="358.9" x2="867.8" y2="358.9" stroke="#8a8a8a" stroke-width="0.6"/>
<text x="866" y="360.1" font-size="3.6" text-anchor="end" font-weight="bold" fill="#222" >30</text>
<line x1="866.3" y1="335" x2="867.8" y2="335" stroke="#8a8a8a" stroke-width="0.6"/>
<text x="866" y="336.2" font-size="3.6" text-anchor="end" font-weight="bold" fill="#222" >40</text>
<rect x="876.2" y="362.1" width="9.3" height="68.3" fill="url(#pg1)" stroke="#b4b2bc" stroke-width="0.8"/>
<line x1="880.9" y1="358.3" x2="880.9" y2="362.1" stroke="#8a8a8a" stroke-width="0.7"/>
<line x1="878.1" y1="358.3" x2="883.6" y2="358.3" stroke="#8a8a8a" stroke-width="0.8"/>
<rect x="889.6" y="359.3" width="9.7" height="71.1" fill="url(#pr2)" stroke="#a89494" stroke-width="0.8"/>
<line x1="894.5" y1="353.1" x2="894.5" y2="359.3" stroke="#8a8a8a" stroke-width="0.7"/>
<line x1="891.8" y1="353.1" x2="897.2" y2="353.1" stroke="#8a8a8a" stroke-width="0.8"/>
<rect x="912.5" y="357.4" width="9.3" height="73" fill="url(#pg1)" stroke="#b4b2bc" stroke-width="0.8"/>
<line x1="917.1" y1="352.4" x2="917.1" y2="357.4" stroke="#8a8a8a" stroke-width="0.7"/>
<line x1="914.4" y1="352.4" x2="919.9" y2="352.4" stroke="#8a8a8a" stroke-width="0.8"/>
<rect x="926.3" y="392.6" width="9.5" height="37.8" fill="url(#pr2)" stroke="#a89494" stroke-width="0.8"/>
<line x1="931" y1="390.8" x2="931" y2="392.6" stroke="#8a8a8a" stroke-width="0.7"/>
<line x1="928.3" y1="390.8" x2="933.8" y2="390.8" stroke="#8a8a8a" stroke-width="0.8"/>
<circle cx="928.6" cy="386.7" r="0.9" fill="#333"/>
<circle cx="931" cy="386.7" r="0.9" fill="#333"/>
<circle cx="933.4" cy="386.7" r="0.9" fill="#333"/>
<rect x="949.2" y="359.8" width="9.3" height="70.6" fill="url(#pg1)" stroke="#b4b2bc" stroke-width="0.8"/>
<line x1="953.9" y1="355.5" x2="953.9" y2="359.8" stroke="#8a8a8a" stroke-width="0.7"/>
<line x1="951.1" y1="355.5" x2="956.6" y2="355.5" stroke="#8a8a8a" stroke-width="0.8"/>
<rect x="963.2" y="393.7" width="9.3" height="36.7" fill="url(#pr2)" stroke="#a89494" stroke-width="0.8"/>
<line x1="967.9" y1="390.9" x2="967.9" y2="393.7" stroke="#8a8a8a" stroke-width="0.7"/>
<line x1="965.1" y1="390.9" x2="970.6" y2="390.9" stroke="#8a8a8a" stroke-width="0.8"/>
<circle cx="965.5" cy="384.8" r="0.9" fill="#333"/>
<circle cx="967.9" cy="384.8" r="0.9" fill="#333"/>
<circle cx="970.2" cy="384.8" r="0.9" fill="#333"/>
<rect x="986.1" y="355.5" width="9.3" height="74.9" fill="url(#pg1)" stroke="#b4b2bc" stroke-width="0.8"/>
<line x1="990.8" y1="351.2" x2="990.8" y2="355.5" stroke="#8a8a8a" stroke-width="0.7"/>
<line x1="988" y1="351.2" x2="993.5" y2="351.2" stroke="#8a8a8a" stroke-width="0.8"/>
<rect x="999.9" y="397.8" width="9.3" height="32.6" fill="url(#pr2)" stroke="#a89494" stroke-width="0.8"/>
<line x1="1004.5" y1="395" x2="1004.5" y2="397.8" stroke="#8a8a8a" stroke-width="0.7"/>
<line x1="1001.8" y1="395" x2="1007.2" y2="395" stroke="#8a8a8a" stroke-width="0.8"/>
<circle cx="1002.1" cy="390.4" r="0.9" fill="#333"/>
<circle cx="1004.5" cy="390.4" r="0.9" fill="#333"/>
<circle cx="1006.9" cy="390.4" r="0.9" fill="#333"/>
<line x1="871.4" y1="434.5" x2="1014.4" y2="434.5" stroke="#9c9c9c" stroke-width="1.35"/>
<line x1="887.4" y1="434.5" x2="887.4" y2="435.7" stroke="#666" stroke-width="0.6"/>
<text x="887.4" y="439.1" font-size="3.6" text-anchor="middle" font-weight="bold" fill="#333" >E</text>
<line x1="923.7" y1="434.5" x2="923.7" y2="435.7" stroke="#666" stroke-width="0.6"/>
<text x="923.7" y="439.1" font-size="3.6" text-anchor="middle" font-weight="bold" fill="#333" >M</text>
<line x1="960.4" y1="434.5" x2="960.4" y2="435.7" stroke="#666" stroke-width="0.6"/>
<text x="960.4" y="439.1" font-size="3.6" text-anchor="middle" font-weight="bold" fill="#333" >D1</text>
<line x1="996.7" y1="434.5" x2="996.7" y2="435.7" stroke="#666" stroke-width="0.6"/>
<text x="996.7" y="439.1" font-size="3.6" text-anchor="middle" font-weight="bold" fill="#333" >D2</text>
<rect x="875.6" y="340.4" width="4.6" height="3.2" fill="#52e03c" stroke="#3a7a30" stroke-width="0.4"/>
<rect x="875.6" y="347.9" width="4.6" height="3.2" fill="#e03434" stroke="#7a3030" stroke-width="0.4"/>
<text x="882.5" y="343.5" font-size="4.5" text-anchor="start" font-weight="normal" fill="#222" textLength="11.6" lengthAdjust="spacingAndGlyphs">Control</text>
<text x="882.5" y="351" font-size="4.5" text-anchor="start" font-weight="normal" fill="#222" textLength="10.4" lengthAdjust="spacingAndGlyphs">Model</text>
<text transform="translate(861.5,382.4) rotate(-90)" font-size="3.4" text-anchor="middle" fill="#222" font-weight="bold" textLength="40.7" lengthAdjust="spacingAndGlyphs">Central residence time(s)</text>
<text x="107.5" y="18.2" font-size="18.7" font-weight="bold" fill="#000">A</text>
<line x1="134.2" y1="8" x2="134.2" y2="102.5" stroke="#9c9c9c" stroke-width="1.35"/>
<line x1="132.7" y1="102.5" x2="134.2" y2="102.5" stroke="#8a8a8a" stroke-width="0.6"/>
<text x="132.4" y="103.7" font-size="3.9" text-anchor="end" font-weight="bold" fill="#222" >0</text>
<line x1="132.7" y1="78.9" x2="134.2" y2="78.9" stroke="#8a8a8a" stroke-width="0.6"/>
<text x="132.4" y="80.1" font-size="3.9" text-anchor="end" font-weight="bold" fill="#222" >20</text>
<line x1="132.7" y1="55.2" x2="134.2" y2="55.2" stroke="#8a8a8a" stroke-width="0.6"/>
<text x="132.4" y="56.5" font-size="3.9" text-anchor="end" font-weight="bold" fill="#222" >40</text>
<line x1="132.7" y1="31.6" x2="134.2" y2="31.6" stroke="#8a8a8a" stroke-width="0.6"/>
<text x="132.4" y="32.8" font-size="3.9" text-anchor="end" font-weight="bold" fill="#222" >60</text>
<line x1="132.7" y1="8" x2="134.2" y2="8" stroke="#8a8a8a" stroke-width="0.6"/>
<text x="132.4" y="9.2" font-size="3.9" text-anchor="end" font-weight="bold" fill="#222" >80</text>
<line x1="185" y1="57.5" x2="185" y2="58.7" stroke="#eca0aa" stroke-width="1.1"/>
<line x1="213.7" y1="39.2" x2="213.7" y2="41.7" stroke="#eca0aa" stroke-width="1.1"/>
<line x1="242.2" y1="54.2" x2="242.2" y2="56.3" stroke="#eca0aa" stroke-width="1.1"/>
<polyline points="156.7,80 185,58.7 213.7,41.7 242.2,56.3" fill="none" stroke="#e07b7b" stroke-width="1"/>
<polyline points="156.7,85.8 185,81.8 213.7,78.8 242.2,83.8" fill="none" stroke="#7ad65a" stroke-width="1.4"/>
<circle cx="156.7" cy="80" r="1.15" fill="#111"/>
<circle cx="185" cy="58.7" r="1.15" fill="#111"/>
<circle cx="213.7" cy="41.7" r="1.15" fill="#111"/>
<circle cx="242.2" cy="56.3" r="1.15" fill="#111"/>
<circle cx="156.7" cy="85.8" r="1.15" fill="#111"/>
<circle cx="185" cy="81.8" r="1.15" fill="#111"/>
<circle cx="213.7" cy="78.8" r="1.15" fill="#111"/>
<circle cx="242.2" cy="83.8" r="1.15" fill="#111"/>
<circle cx="182.6" cy="51.3" r="0.9" fill="#333"/>
<circle cx="185" cy="51.3" r="0.9" fill="#333"/>
<circle cx="187.4" cy="51.3" r="0.9" fill="#333"/>
<circle cx="211.3" cy="33.7" r="0.9" fill="#333"/>
<circle cx="213.7" cy="33.7" r="0.9" fill="#333"/>
<circle cx="216.1" cy="33.7" r="0.9" fill="#333"/>
<circle cx="239.8" cy="48" r="0.9" fill="#333"/>
<circle cx="242.2" cy="48" r="0.9" fill="#333"/>
<circle cx="244.6" cy="48" r="0.9" fill="#333"/>
<line x1="137.5" y1="106.3" x2="261.3" y2="106.3" stroke="#9c9c9c" stroke-width="1.35"/>
<line x1="156.7" y1="106.3" x2="156.7" y2="107.5" stroke="#666" stroke-width="0.6"/>
<text x="156.7" y="111.7" font-size="3.4" text-anchor="middle" font-weight="bold" fill="#333" >E</text>
<line x1="185" y1="106.3" x2="185" y2="107.5" stroke="#666" stroke-width="0.6"/>
<text x="185" y="111.7" font-size="3.4" text-anchor="middle" font-weight="bold" fill="#333" >M</text>
<line x1="213.7" y1="106.3" x2="213.7" y2="107.5" stroke="#666" stroke-width="0.6"/>
<text x="213.7" y="111.7" font-size="3.4" text-anchor="middle" font-weight="bold" fill="#333" >D1</text>
<line x1="242.2" y1="106.3" x2="242.2" y2="107.5" stroke="#666" stroke-width="0.6"/>
<text x="242.2" y="111.7" font-size="3.4" text-anchor="middle" font-weight="bold" fill="#333" >D2</text>
<ellipse cx="146.3" cy="19.2" rx="1.1" ry="0.85" fill="#1a1a1a"/>
<ellipse cx="146.3" cy="26.7" rx="1.1" ry="0.85" fill="#1a1a1a"/>
<text x="150.5" y="20.9" font-size="4.7" text-anchor="start" font-weight="normal" fill="#222" stroke="#222" stroke-width="0.1">Control</text>
<text x="150.5" y="28.4" font-size="4.7" text-anchor="start" font-weight="normal" fill="#222" stroke="#222" stroke-width="0.1">Model</text>
<text transform="translate(126.4,54.2) rotate(-90)" font-size="4" text-anchor="middle" fill="#222" font-weight="bold" textLength="11.7" lengthAdjust="spacingAndGlyphs">Score</text>
<text x="107.5" y="174" font-size="18.7" font-weight="bold" fill="#000">B</text>
<line x1="133" y1="170.9" x2="133" y2="267.5" stroke="#9c9c9c" stroke-width="1.35"/>
<line x1="131.5" y1="267.5" x2="133" y2="267.5" stroke="#8a8a8a" stroke-width="0.6"/>
<text x="131.2" y="268.7" font-size="3.9" text-anchor="end" font-weight="bold" fill="#222" >12</text>
<line x1="131.5" y1="248.2" x2="133" y2="248.2" stroke="#8a8a8a" stroke-width="0.6"/>
<text x="131.2" y="249.4" font-size="3.9" text-anchor="end" font-weight="bold" fill="#222" >13</text>
<line x1="131.5" y1="228.9" x2="133" y2="228.9" stroke="#8a8a8a" stroke-width="0.6"/>
<text x="131.2" y="230.1" font-size="3.9" text-anchor="end" font-weight="bold" fill="#222" >14</text>
<line x1="131.5" y1="209.5" x2="133" y2="209.5" stroke="#8a8a8a" stroke-width="0.6"/>
<text x="131.2" y="210.7" font-size="3.9" text-anchor="end" font-weight="bold" fill="#222" >15</text>
<line x1="131.5" y1="190.2" x2="133" y2="190.2" stroke="#8a8a8a" stroke-width="0.6"/>
<text x="131.2" y="191.4" font-size="3.9" text-anchor="end" font-weight="bold" fill="#222" >16</text>
<line x1="131.5" y1="170.9" x2="133" y2="170.9" stroke="#8a8a8a" stroke-width="0.6"/>
<text x="131.2" y="172.1" font-size="3.9" text-anchor="end" font-weight="bold" fill="#222" >17</text>
<line x1="156.3" y1="207.2" x2="156.3" y2="226.8" stroke="#eca0aa" stroke-width="1.1"/>
<line x1="156.3" y1="231.8" x2="156.3" y2="242.6" stroke="#8ade68" stroke-width="1.1"/>
<line x1="185.7" y1="207.5" x2="185.7" y2="217" stroke="#eca0aa" stroke-width="1.1"/>
<line x1="185.7" y1="225.5" x2="185.7" y2="235.5" stroke="#8ade68" stroke-width="1.1"/>
<line x1="215.4" y1="192.5" x2="215.4" y2="214.2" stroke="#eca0aa" stroke-width="1.1"/>
<line x1="215.4" y1="221.6" x2="215.4" y2="230" stroke="#8ade68" stroke-width="1.1"/>
<line x1="245.5" y1="220.5" x2="245.5" y2="231.5" stroke="#eca0aa" stroke-width="1.1"/>
<line x1="245.5" y1="236.2" x2="245.5" y2="250.6" stroke="#8ade68" stroke-width="1.1"/>
<polyline points="156.3,226.8 185.7,217 215.4,214.2 245.5,231.5" fill="none" stroke="#e07b7b" stroke-width="1"/>
<polyline points="156.3,231.8 185.7,225.5 215.4,221.6 245.5,236.2" fill="none" stroke="#7ad65a" stroke-width="1.4"/>
<circle cx="156.3" cy="226.8" r="1.15" fill="#111"/>
<circle cx="185.7" cy="217" r="1.15" fill="#111"/>
<circle cx="215.4" cy="214.2" r="1.15" fill="#111"/>
<circle cx="245.5" cy="231.5" r="1.15" fill="#111"/>
<circle cx="156.3" cy="231.8" r="1.15" fill="#111"/>
<circle cx="185.7" cy="225.5" r="1.15" fill="#111"/>
<circle cx="215.4" cy="221.6" r="1.15" fill="#111"/>
<circle cx="245.5" cy="236.2" r="1.15" fill="#111"/>
<line x1="136.3" y1="271.5" x2="264.8" y2="271.5" stroke="#9c9c9c" stroke-width="1.35"/>
<line x1="156.3" y1="271.5" x2="156.3" y2="272.7" stroke="#666" stroke-width="0.6"/>
<text x="156.3" y="276.7" font-size="3.4" text-anchor="middle" font-weight="bold" fill="#333" >E</text>
<line x1="185.7" y1="271.5" x2="185.7" y2="272.7" stroke="#666" stroke-width="0.6"/>
<text x="185.7" y="276.7" font-size="3.4" text-anchor="middle" font-weight="bold" fill="#333" >M</text>
<line x1="215.4" y1="271.5" x2="215.4" y2="272.7" stroke="#666" stroke-width="0.6"/>
<text x="215.4" y="276.7" font-size="3.4" text-anchor="middle" font-weight="bold" fill="#333" >D1</text>
<line x1="245.5" y1="271.5" x2="245.5" y2="272.7" stroke="#666" stroke-width="0.6"/>
<text x="245.5" y="276.7" font-size="3.4" text-anchor="middle" font-weight="bold" fill="#333" >D2</text>
<ellipse cx="145.8" cy="182.6" rx="1.1" ry="0.85" fill="#1a1a1a"/>
<ellipse cx="145.8" cy="190.4" rx="1.1" ry="0.85" fill="#1a1a1a"/>
<text x="149.1" y="184.3" font-size="4.7" text-anchor="start" font-weight="normal" fill="#222" stroke="#222" stroke-width="0.1">Control</text>
<text x="149.1" y="192.1" font-size="4.7" text-anchor="start" font-weight="normal" fill="#222" stroke="#222" stroke-width="0.1">Model</text>
<text transform="translate(125.6,218.6) rotate(-90)" font-size="4" text-anchor="middle" fill="#222" font-weight="bold" textLength="10.5" lengthAdjust="spacingAndGlyphs">Score</text>
<text x="107.5" y="341" font-size="18.7" font-weight="bold" fill="#000">C</text>
<line x1="134.2" y1="338.7" x2="134.2" y2="425.7" stroke="#9c9c9c" stroke-width="1.35"/>
<line x1="132.7" y1="425.7" x2="134.2" y2="425.7" stroke="#8a8a8a" stroke-width="0.6"/>
<text x="132.4" y="426.9" font-size="3.9" text-anchor="end" font-weight="bold" fill="#222" >0</text>
<line x1="132.7" y1="396.7" x2="134.2" y2="396.7" stroke="#8a8a8a" stroke-width="0.6"/>
<text x="132.4" y="397.9" font-size="3.9" text-anchor="end" font-weight="bold" fill="#222" >20</text>
<line x1="132.7" y1="367.7" x2="134.2" y2="367.7" stroke="#8a8a8a" stroke-width="0.6"/>
<text x="132.4" y="368.9" font-size="3.9" text-anchor="end" font-weight="bold" fill="#222" >40</text>
<line x1="132.7" y1="338.7" x2="134.2" y2="338.7" stroke="#8a8a8a" stroke-width="0.6"/>
<text x="132.4" y="339.9" font-size="3.9" text-anchor="end" font-weight="bold" fill="#222" >60</text>
<line x1="156.7" y1="397.3" x2="156.7" y2="400.7" stroke="#eca0aa" stroke-width="1.1"/>
<line x1="156.7" y1="404" x2="156.7" y2="409.5" stroke="#8ade68" stroke-width="1.1"/>
<line x1="186.2" y1="370.3" x2="186.2" y2="375.7" stroke="#eca0aa" stroke-width="1.1"/>
<line x1="186.2" y1="401.2" x2="186.2" y2="407" stroke="#8ade68" stroke-width="1.1"/>
<line x1="215.3" y1="343.7" x2="215.3" y2="353.3" stroke="#eca0aa" stroke-width="1.1"/>
<line x1="215.3" y1="399.2" x2="215.3" y2="406.7" stroke="#8ade68" stroke-width="1.1"/>
<line x1="244.7" y1="362.5" x2="244.7" y2="371.2" stroke="#eca0aa" stroke-width="1.1"/>
<line x1="244.7" y1="403.2" x2="244.7" y2="409.5" stroke="#8ade68" stroke-width="1.1"/>
<polyline points="156.7,400.7 186.2,375.7 215.3,353.3 244.7,371.2" fill="none" stroke="#e07b7b" stroke-width="1"/>
<polyline points="156.7,404 186.2,401.2 215.3,399.2 244.7,403.2" fill="none" stroke="#7ad65a" stroke-width="1.4"/>
<circle cx="156.7" cy="400.7" r="1.15" fill="#111"/>
<circle cx="186.2" cy="375.7" r="1.15" fill="#111"/>
<circle cx="215.3" cy="353.3" r="1.15" fill="#111"/>
<circle cx="244.7" cy="371.2" r="1.15" fill="#111"/>
<circle cx="156.7" cy="404" r="1.15" fill="#111"/>
<circle cx="186.2" cy="401.2" r="1.15" fill="#111"/>
<circle cx="215.3" cy="399.2" r="1.15" fill="#111"/>
<circle cx="244.7" cy="403.2" r="1.15" fill="#111"/>
<circle cx="183.8" cy="366.2" r="0.9" fill="#333"/>
<circle cx="186.2" cy="366.2" r="0.9" fill="#333"/>
<circle cx="188.6" cy="366.2" r="0.9" fill="#333"/>
<circle cx="212.9" cy="340.3" r="0.9" fill="#333"/>
<circle cx="215.3" cy="340.3" r="0.9" fill="#333"/>
<circle cx="217.7" cy="340.3" r="0.9" fill="#333"/>
<circle cx="242.3" cy="358.7" r="0.9" fill="#333"/>
<circle cx="244.7" cy="358.7" r="0.9" fill="#333"/>
<circle cx="247.1" cy="358.7" r="0.9" fill="#333"/>
<line x1="137.5" y1="429.2" x2="264.2" y2="429.2" stroke="#9c9c9c" stroke-width="1.35"/>
<line x1="156.7" y1="429.2" x2="156.7" y2="430.4" stroke="#666" stroke-width="0.6"/>
<text x="156.7" y="434.2" font-size="3.4" text-anchor="middle" font-weight="bold" fill="#333" >E</text>
<line x1="186.2" y1="429.2" x2="186.2" y2="430.4" stroke="#666" stroke-width="0.6"/>
<text x="186.2" y="434.2" font-size="3.4" text-anchor="middle" font-weight="bold" fill="#333" >M</text>
<line x1="215.3" y1="429.2" x2="215.3" y2="430.4" stroke="#666" stroke-width="0.6"/>
<text x="215.3" y="434.2" font-size="3.4" text-anchor="middle" font-weight="bold" fill="#333" >D1</text>
<line x1="244.7" y1="429.2" x2="244.7" y2="430.4" stroke="#666" stroke-width="0.6"/>
<text x="244.7" y="434.2" font-size="3.4" text-anchor="middle" font-weight="bold" fill="#333" >D2</text>
<ellipse cx="148.3" cy="344" rx="1.1" ry="0.85" fill="#1a1a1a"/>
<ellipse cx="148.3" cy="350.3" rx="1.1" ry="0.85" fill="#1a1a1a"/>
<text x="151.7" y="345.7" font-size="4.7" text-anchor="start" font-weight="normal" fill="#222" stroke="#222" stroke-width="0.1">Control</text>
<text x="151.7" y="352" font-size="4.7" text-anchor="start" font-weight="normal" fill="#222" stroke="#222" stroke-width="0.1">Model</text>
<text transform="translate(128.9,382) rotate(-90)" font-size="4" text-anchor="middle" fill="#222" font-weight="bold" textLength="10.5" lengthAdjust="spacingAndGlyphs">Score</text>
<g>
<path d="M4.3,41.3 C7,40.2 9,39.8 11,40.2 C14,41 17,42.8 20,43.6 C23,44.4 26,44.6 29,43 C32,41.3 35,39.5 38,38.8 L41.8,38.6" fill="none" stroke="#222" stroke-width="1.9" stroke-linecap="round"/>
<path d="M22,43.6 C25,44.2 26.5,44.1 29,42.7 C32,41 35,39.3 41.8,38.7" fill="none" stroke="#9a9a9a" stroke-width="0.55"/>
<path d="M41.5,41 C41,35 41.6,27.5 46.5,22.5 C50,19 55,16.8 60.5,16.4 C65,16.2 69.5,18 73.3,22 C75.5,24 77,25.5 78.6,26.8 L80.3,23.4 L81.6,24.6 L81.8,30.2 C83.5,34 85.5,38 86.7,41 L87.2,43 L83,44.4 C81,44.5 78,44 75.8,43.5 C75.4,44 74.8,44.6 73.7,44.8 L65,44.7 C63.8,44.5 62.8,44 62,43 C61.6,44 61,45 60,45.3 L53,45.3 L46,44.6 C44,44 42.5,43 41.5,41 Z" fill="#f3f3f6" stroke="#141414" stroke-width="1.3" stroke-linejoin="round"/>
<path d="M42.5,42.6 C44,44 45,44.6 47,44.9 L53,45.5 L60,45.5 M63.5,44.6 L65,44.9 L73.7,45 M77,44 L83,44.6" fill="none" stroke="#141414" stroke-width="1.6"/>
<path d="M54.9,26.8 C58,27 60.8,28.8 61.8,31.5 C62.5,34 62.3,38.5 62,43" fill="none" stroke="#141414" stroke-width="1.3"/>
<path d="M74.4,27.8 C71.6,28.3 71,33.6 73.6,34.9" fill="none" stroke="#141414" stroke-width="1.15"/>
<ellipse cx="75.2" cy="31.3" rx="1.1" ry="2.5" fill="none" stroke="#141414" stroke-width="0.95"/>
<path d="M71.2,37.6 C71.8,39.6 72.8,41.3 74,42.8" fill="none" stroke="#141414" stroke-width="1.1"/>
<circle cx="79.8" cy="38.3" r="1.25" fill="#111"/>
<path d="M84.3,44.1 L87.2,42.8" stroke="#111" stroke-width="1.8"/>
<path d="M87,41.2 L91.8,35.2 M87.4,41.6 L92.6,37.2 M86.8,40.6 L90.4,34.6" stroke="#8a8a8a" stroke-width="0.7"/>
<path d="M83.5,45.6 L81.2,50.5 M84.2,45.6 L82.8,50.8 M83,45.6 L80.2,49.2" stroke="#8a8a8a" stroke-width="0.7"/>
</g>
<g transform="translate(4.8,175.1)">
<path d="M4.3,41.3 C7,40.2 9,39.8 11,40.2 C14,41 17,42.8 20,43.6 C23,44.4 26,44.6 29,43 C32,41.3 35,39.5 38,38.8 L41.8,38.6" fill="none" stroke="#222" stroke-width="1.9" stroke-linecap="round"/>
<path d="M22,43.6 C25,44.2 26.5,44.1 29,42.7 C32,41 35,39.3 41.8,38.7" fill="none" stroke="#9a9a9a" stroke-width="0.55"/>
<path d="M41.5,41 C41,35 41.6,27.5 46.5,22.5 C50,19 55,16.8 60.5,16.4 C65,16.2 69.5,18 73.3,22 C75.5,24 77,25.5 78.6,26.8 L80.3,23.4 L81.6,24.6 L81.8,30.2 C83.5,34 85.5,38 86.7,41 L87.2,43 L83,44.4 C81,44.5 78,44 75.8,43.5 C75.4,44 74.8,44.6 73.7,44.8 L65,44.7 C63.8,44.5 62.8,44 62,43 C61.6,44 61,45 60,45.3 L53,45.3 L46,44.6 C44,44 42.5,43 41.5,41 Z" fill="#f3f3f6" stroke="#141414" stroke-width="1.3" stroke-linejoin="round"/>
<path d="M42.5,42.6 C44,44 45,44.6 47,44.9 L53,45.5 L60,45.5 M63.5,44.6 L65,44.9 L73.7,45 M77,44 L83,44.6" fill="none" stroke="#141414" stroke-width="1.6"/>
<path d="M54.9,26.8 C58,27 60.8,28.8 61.8,31.5 C62.5,34 62.3,38.5 62,43" fill="none" stroke="#141414" stroke-width="1.3"/>
<path d="M74.4,27.8 C71.6,28.3 71,33.6 73.6,34.9" fill="none" stroke="#141414" stroke-width="1.15"/>
<ellipse cx="75.2" cy="31.3" rx="1.1" ry="2.5" fill="none" stroke="#141414" stroke-width="0.95"/>
<path d="M71.2,37.6 C71.8,39.6 72.8,41.3 74,42.8" fill="none" stroke="#141414" stroke-width="1.1"/>
<circle cx="79.8" cy="38.3" r="1.25" fill="#111"/>
<path d="M84.3,44.1 L87.2,42.8" stroke="#111" stroke-width="1.8"/>
<path d="M87,41.2 L91.8,35.2 M87.4,41.6 L92.6,37.2 M86.8,40.6 L90.4,34.6" stroke="#8a8a8a" stroke-width="0.7"/>
<path d="M83.5,45.6 L81.2,50.5 M84.2,45.6 L82.8,50.8 M83,45.6 L80.2,49.2" stroke="#8a8a8a" stroke-width="0.7"/>
</g>
<g transform="translate(3.2,329.5)">
<path d="M4.3,41.3 C7,40.2 9,39.8 11,40.2 C14,41 17,42.8 20,43.6 C23,44.4 26,44.6 29,43 C32,41.3 35,39.5 38,38.8 L41.8,38.6" fill="none" stroke="#222" stroke-width="1.9" stroke-linecap="round"/>
<path d="M22,43.6 C25,44.2 26.5,44.1 29,42.7 C32,41 35,39.3 41.8,38.7" fill="none" stroke="#9a9a9a" stroke-width="0.55"/>
<path d="M41.5,41 C41,35 41.6,27.5 46.5,22.5 C50,19 55,16.8 60.5,16.4 C65,16.2 69.5,18 73.3,22 C75.5,24 77,25.5 78.6,26.8 L80.3,23.4 L81.6,24.6 L81.8,30.2 C83.5,34 85.5,38 86.7,41 L87.2,43 L83,44.4 C81,44.5 78,44 75.8,43.5 C75.4,44 74.8,44.6 73.7,44.8 L65,44.7 C63.8,44.5 62.8,44 62,43 C61.6,44 61,45 60,45.3 L53,45.3 L46,44.6 C44,44 42.5,43 41.5,41 Z" fill="#f3f3f6" stroke="#141414" stroke-width="1.3" stroke-linejoin="round"/>
<path d="M42.5,42.6 C44,44 45,44.6 47,44.9 L53,45.5 L60,45.5 M63.5,44.6 L65,44.9 L73.7,45 M77,44 L83,44.6" fill="none" stroke="#141414" stroke-width="1.6"/>
<path d="M54.9,26.8 C58,27 60.8,28.8 61.8,31.5 C62.5,34 62.3,38.5 62,43" fill="none" stroke="#141414" stroke-width="1.3"/>
<path d="M74.4,27.8 C71.6,28.3 71,33.6 73.6,34.9" fill="none" stroke="#141414" stroke-width="1.15"/>
<ellipse cx="75.2" cy="31.3" rx="1.1" ry="2.5" fill="none" stroke="#141414" stroke-width="0.95"/>
<path d="M71.2,37.6 C71.8,39.6 72.8,41.3 74,42.8" fill="none" stroke="#141414" stroke-width="1.1"/>
<circle cx="79.8" cy="38.3" r="1.25" fill="#111"/>
<path d="M84.3,44.1 L87.2,42.8" stroke="#111" stroke-width="1.8"/>
<path d="M87,41.2 L91.8,35.2 M87.4,41.6 L92.6,37.2 M86.8,40.6 L90.4,34.6" stroke="#8a8a8a" stroke-width="0.7"/>
<path d="M83.5,45.6 L81.2,50.5 M84.2,45.6 L82.8,50.8 M83,45.6 L80.2,49.2" stroke="#8a8a8a" stroke-width="0.7"/>
</g>
<g transform="translate(33.4,161.9) rotate(59)"><path d="M0,-2.7 L49,-1.9 C50.4,-1.9 50.4,1.9 49,1.9 L0,2.7 C-3,2.7 -3,-2.7 0,-2.7 Z" fill="#7a7a7e" stroke="#1a1a1a" stroke-width="1.1"/><path d="M0.3,-1.1 L8.5,-1 M10.5,-1 L20,-0.9 M22,-0.9 L38,-0.7" stroke="#e4e4e8" stroke-width="1.2" stroke-linecap="round"/><path d="M9.5,-2.2 L9.5,2.2 M21,-2 L21,2" stroke="#333" stroke-width="0.6"/></g>
<g transform="translate(32.1,317.9) rotate(57.3)"><line x1="37" y1="0" x2="50" y2="0" stroke="#9a9ab4" stroke-width="0.6"/><rect x="12" y="-2.1" width="23" height="4.2" fill="#e8eef9" stroke="#8a8aa2" stroke-width="0.6"/><path d="M16,-2 L16,-0.8 M20,-2 L20,-0.8 M24,-2 L24,-0.8 M28,-2 L28,-0.8 M32,-2 L32,-0.8" stroke="#a0a0b8" stroke-width="0.4"/><rect x="34.5" y="-1.4" width="2.5" height="2.8" fill="#6a6ab2"/><rect x="1.2" y="-1.3" width="3.4" height="2.6" fill="#d6d6ee"/><rect x="5.3" y="-1.9" width="8.5" height="3.8" fill="#7272be" stroke="#5a5aa0" stroke-width="0.5"/><rect x="-1.6" y="-3.9" width="3.2" height="7.8" rx="1.4" fill="#a6a6d8" stroke="#6a6aaa" stroke-width="0.6"/><rect x="4" y="-4.4" width="3.2" height="8.8" rx="1.4" fill="#a6a6d8" stroke="#6a6aaa" stroke-width="0.6"/></g>
<text x="53.5" y="77" font-size="12.8" text-anchor="middle" font-weight="normal" fill="#111" stroke="#111" stroke-width="0.3" lengthAdjust="spacingAndGlyphs" textLength="35.6">Model</text>
<text x="53" y="93.6" font-size="12.8" text-anchor="middle" font-weight="normal" fill="#111" stroke="#111" stroke-width="0.3" lengthAdjust="spacingAndGlyphs" textLength="78.8">establishment</text>
<text x="56.5" y="237.8" font-size="12.6" text-anchor="middle" font-weight="normal" fill="#111" stroke="#111" stroke-width="0.3" lengthAdjust="spacingAndGlyphs" textLength="70.9">Ovariectomy</text>
<text x="56.8" y="404.6" font-size="12.8" text-anchor="middle" font-weight="normal" fill="#111" stroke="#111" stroke-width="0.3" lengthAdjust="spacingAndGlyphs" textLength="53.1">Hormone</text>
<text x="56.8" y="421.4" font-size="12.8" text-anchor="middle" font-weight="normal" fill="#111" stroke="#111" stroke-width="0.3" lengthAdjust="spacingAndGlyphs" textLength="92">priming regimen</text>
</svg></body></html>
